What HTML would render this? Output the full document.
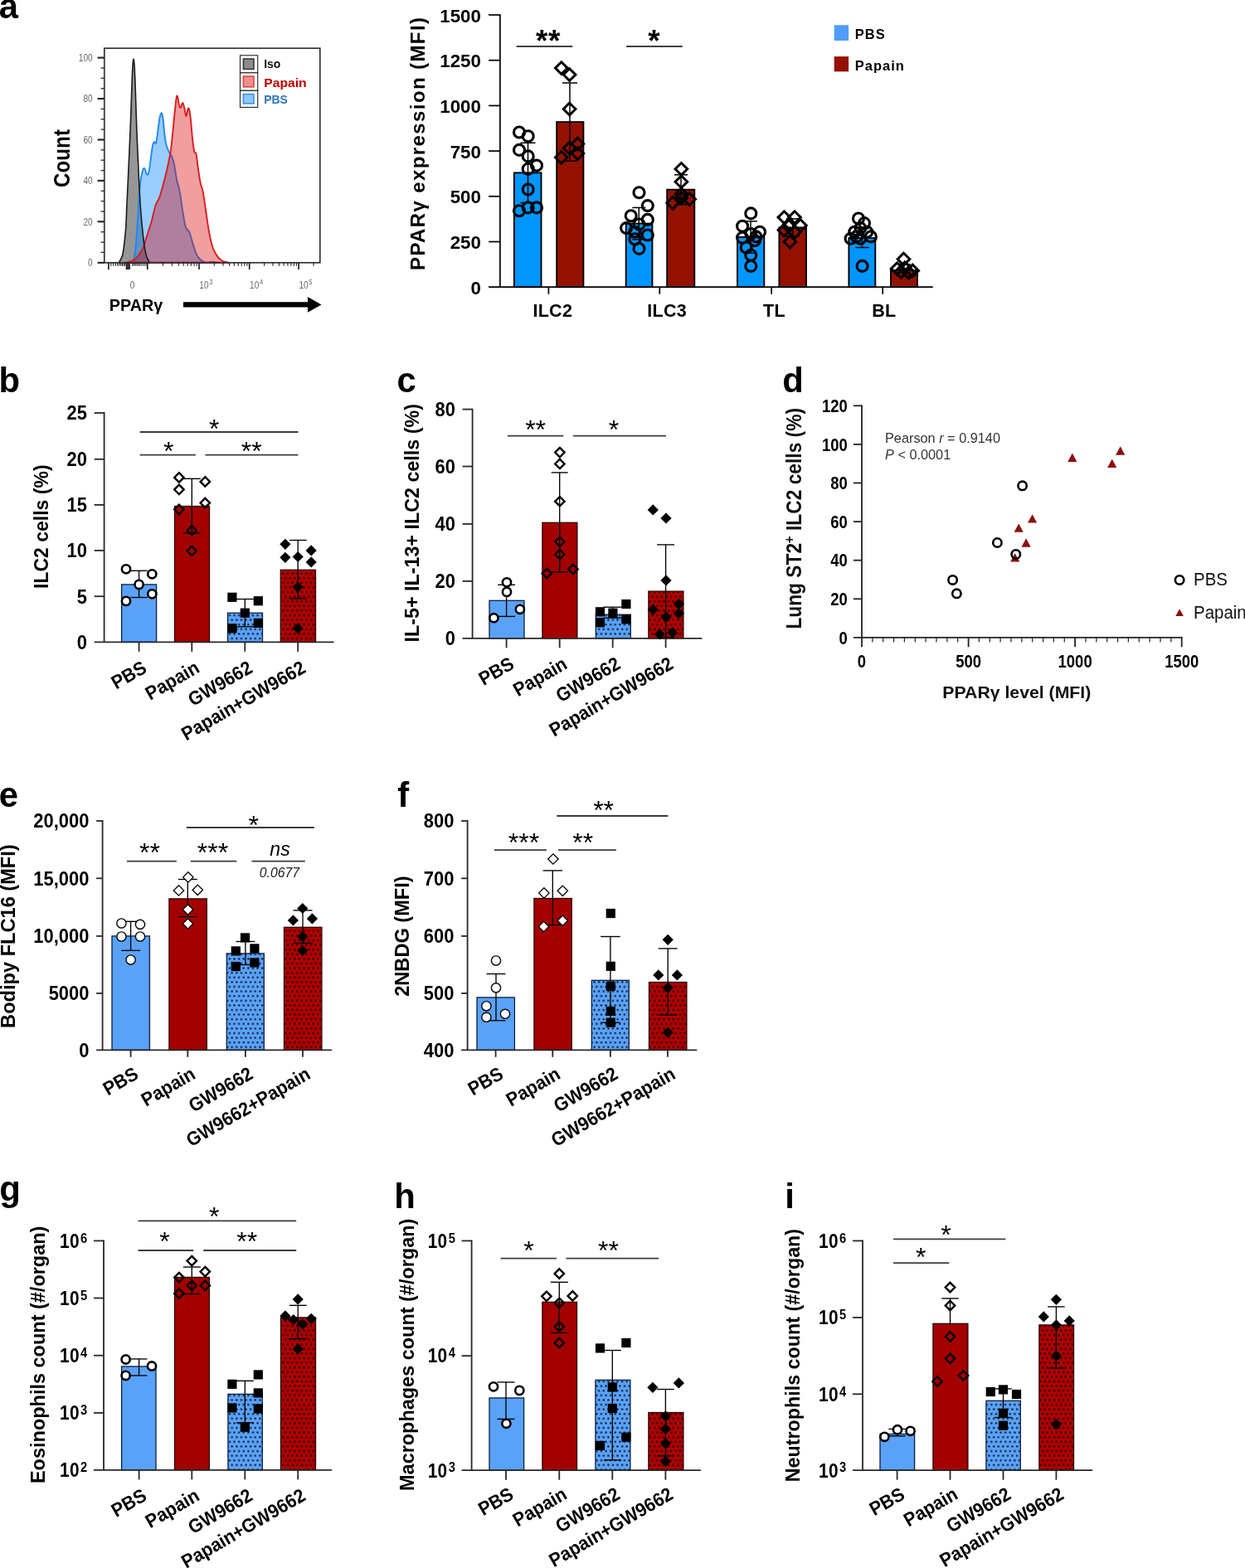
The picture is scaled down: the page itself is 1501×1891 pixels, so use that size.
<!DOCTYPE html>
<html><head><meta charset="utf-8"><title>Figure</title>
<style>html,body{margin:0;padding:0;background:#fff;overflow:hidden}svg{display:block}svg text{font-family:"Liberation Sans",sans-serif;font-kerning:normal}svg text.dv{font-family:"DejaVu Sans",sans-serif}</style></head>
<body>
<svg width="1501" height="1891" viewBox="0 0 1501 1891" role="img" aria-label="Figure panels a to i">
<defs>
<pattern id="dotb" width="5.6" height="11.2" patternUnits="userSpaceOnUse" patternTransform="translate(1.2 1.5)">
<rect width="5.6" height="11.2" fill="#5aa2f8"/><rect x="0.3" y="0.3" width="2.1" height="2.1" rx="0.4" fill="#020a14"/><rect x="3.1" y="5.9" width="2.1" height="2.1" rx="0.4" fill="#020a14"/></pattern>
<pattern id="dotr" width="5.6" height="11.2" patternUnits="userSpaceOnUse" patternTransform="translate(1.2 1.5)">
<rect width="5.6" height="11.2" fill="#ad0000"/><rect x="0.3" y="0.3" width="2.1" height="2.1" rx="0.4" fill="#120000"/><rect x="3.1" y="5.9" width="2.1" height="2.1" rx="0.4" fill="#120000"/></pattern>
</defs>
<rect width="1501" height="1891" fill="#fff"/>

<text x="-1.2" y="22.0" font-size="41.8" font-weight="bold" text-anchor="start" fill="#000">a</text>
<text x="-1.5" y="473.3" font-size="41.8" font-weight="bold" text-anchor="start" fill="#000">b</text>
<text x="478.6" y="473.3" font-size="41.8" font-weight="bold" text-anchor="start" fill="#000">c</text>
<text x="943.3" y="473.0" font-size="41.8" font-weight="bold" text-anchor="start" fill="#000">d</text>
<text x="-1.3" y="972.6" font-size="41.8" font-weight="bold" text-anchor="start" fill="#000">e</text>
<text x="479.3" y="972.6" font-size="41.8" font-weight="bold" text-anchor="start" fill="#000">f</text>
<text x="-0.7" y="1448.0" font-size="41.8" font-weight="bold" text-anchor="start" fill="#000">g</text>
<text x="475.2" y="1457.0" font-size="41.8" font-weight="bold" text-anchor="start" fill="#000">h</text>
<text x="946.2" y="1457.0" font-size="41.8" font-weight="bold" text-anchor="start" fill="#000">i</text>
<rect x="146.6" y="704.9" width="42.0" height="69.5" fill="#5aa2f8" stroke="#0c1f3d" stroke-width="1.3"/>
<rect x="210.5" y="610.5" width="42.0" height="163.9" fill="#a30000" stroke="#2a0303" stroke-width="1.3"/>
<rect x="274.5" y="739.2" width="42.0" height="35.2" fill="url(#dotb)" stroke="#0c1f3d" stroke-width="1.3"/>
<rect x="338.3" y="687.3" width="42.2" height="87.1" fill="url(#dotr)" stroke="#2a0303" stroke-width="1.3"/>
<line x1="125.6" y1="497.1" x2="125.6" y2="774.4" stroke="#282828" stroke-width="1.8" />
<line x1="113.6" y1="774.4" x2="402.5" y2="774.4" stroke="#282828" stroke-width="1.8" />
<line x1="113.6" y1="498.0" x2="125.6" y2="498.0" stroke="#282828" stroke-width="1.8" />
<line x1="113.6" y1="553.8" x2="125.6" y2="553.8" stroke="#282828" stroke-width="1.8" />
<line x1="113.6" y1="608.9" x2="125.6" y2="608.9" stroke="#282828" stroke-width="1.8" />
<line x1="113.6" y1="663.9" x2="125.6" y2="663.9" stroke="#282828" stroke-width="1.8" />
<line x1="113.6" y1="719.2" x2="125.6" y2="719.2" stroke="#282828" stroke-width="1.8" />
<text x="0.0" y="0.0" font-size="23.2" font-weight="bold" text-anchor="end" fill="#000" transform="translate(104.9 506.3) scale(0.945 1)">25</text>
<text x="0.0" y="0.0" font-size="23.2" font-weight="bold" text-anchor="end" fill="#000" transform="translate(104.9 562.1) scale(0.945 1)">20</text>
<text x="0.0" y="0.0" font-size="23.2" font-weight="bold" text-anchor="end" fill="#000" transform="translate(104.9 617.2) scale(0.945 1)">15</text>
<text x="0.0" y="0.0" font-size="23.2" font-weight="bold" text-anchor="end" fill="#000" transform="translate(104.9 672.2) scale(0.945 1)">10</text>
<text x="0.0" y="0.0" font-size="23.2" font-weight="bold" text-anchor="end" fill="#000" transform="translate(104.9 727.5) scale(0.945 1)">5</text>
<text x="0.0" y="0.0" font-size="23.2" font-weight="bold" text-anchor="end" fill="#000" transform="translate(104.9 782.7) scale(0.945 1)">0</text>
<line x1="167.6" y1="774.4" x2="167.6" y2="785.9" stroke="#282828" stroke-width="1.8" />
<line x1="231.3" y1="774.4" x2="231.3" y2="785.9" stroke="#282828" stroke-width="1.8" />
<line x1="295.3" y1="774.4" x2="295.3" y2="785.9" stroke="#282828" stroke-width="1.8" />
<line x1="359.2" y1="774.4" x2="359.2" y2="785.9" stroke="#282828" stroke-width="1.8" />
<text x="0.0" y="0.0" font-size="23.1" font-weight="bold" text-anchor="end" fill="#000" transform="translate(178.4 809.7) rotate(-30) scale(0.932 1)">PBS</text>
<text x="0.0" y="0.0" font-size="23.1" font-weight="bold" text-anchor="end" fill="#000" transform="translate(242.1 809.7) rotate(-30) scale(0.932 1)">Papain</text>
<text x="0.0" y="0.0" font-size="23.1" font-weight="bold" text-anchor="end" fill="#000" transform="translate(306.1 809.7) rotate(-30) scale(0.932 1)">GW9662</text>
<text x="0.0" y="0.0" font-size="23.1" font-weight="bold" text-anchor="end" fill="#000" transform="translate(370.0 809.7) rotate(-30) scale(0.932 1)">Papain+GW9662</text>
<line x1="167.6" y1="688.3" x2="167.6" y2="720.5" stroke="#000" stroke-width="1.35" />
<line x1="157.6" y1="688.3" x2="177.6" y2="688.3" stroke="#000" stroke-width="1.35" />
<line x1="157.6" y1="720.5" x2="177.6" y2="720.5" stroke="#000" stroke-width="1.35" />
<line x1="231.3" y1="577.3" x2="231.3" y2="642.9" stroke="#000" stroke-width="1.35" />
<line x1="220.8" y1="577.3" x2="241.8" y2="577.3" stroke="#000" stroke-width="1.35" />
<line x1="220.8" y1="642.9" x2="241.8" y2="642.9" stroke="#000" stroke-width="1.35" />
<line x1="295.3" y1="722.5" x2="295.3" y2="755.8" stroke="#000" stroke-width="1.35" />
<line x1="284.8" y1="722.5" x2="305.8" y2="722.5" stroke="#000" stroke-width="1.35" />
<line x1="284.8" y1="755.8" x2="305.8" y2="755.8" stroke="#000" stroke-width="1.35" />
<line x1="359.2" y1="651.5" x2="359.2" y2="721.9" stroke="#000" stroke-width="1.35" />
<line x1="348.8" y1="651.5" x2="369.7" y2="651.5" stroke="#000" stroke-width="1.35" />
<line x1="348.8" y1="721.9" x2="369.7" y2="721.9" stroke="#000" stroke-width="1.35" />
<circle cx="152.0" cy="686.3" r="5.1" fill="#fff" stroke="#000" stroke-width="2.6"/>
<circle cx="183.3" cy="692.3" r="5.1" fill="#fff" stroke="#000" stroke-width="2.6"/>
<circle cx="167.6" cy="704.9" r="5.1" fill="#fff" stroke="#000" stroke-width="2.6"/>
<circle cx="183.3" cy="716.3" r="5.1" fill="#fff" stroke="#000" stroke-width="2.6"/>
<circle cx="152.0" cy="724.9" r="5.1" fill="#fff" stroke="#000" stroke-width="2.6"/>
<path d="M215.9 570.2L221.6 575.9L215.9 581.6L210.2 575.9Z" fill="none" stroke="#000" stroke-width="2.4" stroke-linejoin="miter"/>
<path d="M247.3 575.2L253.0 580.9L247.3 586.6L241.6 580.9Z" fill="none" stroke="#000" stroke-width="2.4" stroke-linejoin="miter"/>
<path d="M215.9 584.6L221.6 590.3L215.9 596.0L210.2 590.3Z" fill="none" stroke="#000" stroke-width="2.4" stroke-linejoin="miter"/>
<path d="M247.3 600.8L253.0 606.5L247.3 612.2L241.6 606.5Z" fill="none" stroke="#000" stroke-width="2.4" stroke-linejoin="miter"/>
<path d="M215.9 608.6L221.6 614.3L215.9 620.0L210.2 614.3Z" fill="none" stroke="#000" stroke-width="2.4" stroke-linejoin="miter"/>
<path d="M231.3 634.2L237.0 639.9L231.3 645.6L225.6 639.9Z" fill="none" stroke="#000" stroke-width="2.4" stroke-linejoin="miter"/>
<path d="M231.3 658.6L237.0 664.3L231.3 670.0L225.6 664.3Z" fill="none" stroke="#000" stroke-width="2.4" stroke-linejoin="miter"/>
<rect x="274.3" y="714.7" width="11.2" height="11.2" fill="#000"/>
<rect x="305.7" y="719.1" width="11.2" height="11.2" fill="#000"/>
<rect x="289.7" y="733.6" width="11.2" height="11.2" fill="#000"/>
<rect x="305.7" y="745.8" width="11.2" height="11.2" fill="#000"/>
<rect x="274.3" y="752.2" width="11.2" height="11.2" fill="#000"/>
<path d="M343.9 649.7L350.5 656.3L343.9 662.9L337.3 656.3Z" fill="#000"/>
<path d="M375.2 657.3L381.8 663.9L375.2 670.5L368.6 663.9Z" fill="#000"/>
<path d="M343.9 665.7L350.5 672.3L343.9 678.9L337.3 672.3Z" fill="#000"/>
<path d="M359.2 664.9L365.8 671.5L359.2 678.1L352.6 671.5Z" fill="#000"/>
<path d="M375.2 671.3L381.8 677.9L375.2 684.5L368.6 677.9Z" fill="#000"/>
<path d="M359.2 701.3L365.8 707.9L359.2 714.5L352.6 707.9Z" fill="#000"/>
<path d="M359.2 751.2L365.8 757.8L359.2 764.4L352.6 757.8Z" fill="#000"/>
<line x1="168.6" y1="521.0" x2="359.4" y2="521.0" stroke="#3c3c3c" stroke-width="1.8" />
<line x1="168.6" y1="548.6" x2="235.9" y2="548.6" stroke="#3c3c3c" stroke-width="1.8" />
<line x1="247.5" y1="548.6" x2="359.4" y2="548.6" stroke="#3c3c3c" stroke-width="1.8" />
<text x="258.3" y="528.0" font-size="32" font-weight="normal" text-anchor="middle" fill="#000" letter-spacing="0">*</text>
<text x="203.3" y="554.5" font-size="32" font-weight="normal" text-anchor="middle" fill="#000" letter-spacing="0">*</text>
<text x="303.3" y="554.5" font-size="32" font-weight="normal" text-anchor="middle" fill="#000" letter-spacing="0">**</text>
<text transform="translate(58 635.2) rotate(-90)" font-size="24.3" font-weight="bold" text-anchor="middle" textLength="149.5" lengthAdjust="spacingAndGlyphs">ILC2 cells (%)</text>
<rect x="590.0" y="724.3" width="42.0" height="45.5" fill="#5aa2f8" stroke="#0c1f3d" stroke-width="1.3"/>
<rect x="653.9" y="630.3" width="42.0" height="139.5" fill="#a30000" stroke="#2a0303" stroke-width="1.3"/>
<rect x="718.3" y="741.2" width="42.0" height="28.6" fill="url(#dotb)" stroke="#0c1f3d" stroke-width="1.3"/>
<rect x="781.9" y="713.1" width="42.0" height="56.7" fill="url(#dotr)" stroke="#2a0303" stroke-width="1.3"/>
<line x1="569.6" y1="492.7" x2="569.6" y2="769.8" stroke="#282828" stroke-width="1.8" />
<line x1="557.6" y1="769.8" x2="846.4" y2="769.8" stroke="#282828" stroke-width="1.8" />
<line x1="557.6" y1="493.6" x2="569.6" y2="493.6" stroke="#282828" stroke-width="1.8" />
<line x1="557.6" y1="562.5" x2="569.6" y2="562.5" stroke="#282828" stroke-width="1.8" />
<line x1="557.6" y1="631.9" x2="569.6" y2="631.9" stroke="#282828" stroke-width="1.8" />
<line x1="557.6" y1="700.9" x2="569.6" y2="700.9" stroke="#282828" stroke-width="1.8" />
<text x="0.0" y="0.0" font-size="23.2" font-weight="bold" text-anchor="end" fill="#000" transform="translate(548.9 501.9) scale(0.945 1)">80</text>
<text x="0.0" y="0.0" font-size="23.2" font-weight="bold" text-anchor="end" fill="#000" transform="translate(548.9 570.8) scale(0.945 1)">60</text>
<text x="0.0" y="0.0" font-size="23.2" font-weight="bold" text-anchor="end" fill="#000" transform="translate(548.9 640.2) scale(0.945 1)">40</text>
<text x="0.0" y="0.0" font-size="23.2" font-weight="bold" text-anchor="end" fill="#000" transform="translate(548.9 709.2) scale(0.945 1)">20</text>
<text x="0.0" y="0.0" font-size="23.2" font-weight="bold" text-anchor="end" fill="#000" transform="translate(548.9 778.1) scale(0.945 1)">0</text>
<line x1="610.6" y1="769.8" x2="610.6" y2="781.3" stroke="#282828" stroke-width="1.8" />
<line x1="674.7" y1="769.8" x2="674.7" y2="781.3" stroke="#282828" stroke-width="1.8" />
<line x1="738.7" y1="769.8" x2="738.7" y2="781.3" stroke="#282828" stroke-width="1.8" />
<line x1="802.6" y1="769.8" x2="802.6" y2="781.3" stroke="#282828" stroke-width="1.8" />
<text x="0.0" y="0.0" font-size="23.1" font-weight="bold" text-anchor="end" fill="#000" transform="translate(621.4 805.1) rotate(-30) scale(0.932 1)">PBS</text>
<text x="0.0" y="0.0" font-size="23.1" font-weight="bold" text-anchor="end" fill="#000" transform="translate(685.5 805.1) rotate(-30) scale(0.932 1)">Papain</text>
<text x="0.0" y="0.0" font-size="23.1" font-weight="bold" text-anchor="end" fill="#000" transform="translate(749.5 805.1) rotate(-30) scale(0.932 1)">GW9662</text>
<text x="0.0" y="0.0" font-size="23.1" font-weight="bold" text-anchor="end" fill="#000" transform="translate(813.4 805.1) rotate(-30) scale(0.932 1)">Papain+GW9662</text>
<line x1="610.6" y1="705.3" x2="610.6" y2="743.4" stroke="#000" stroke-width="1.35" />
<line x1="600.2" y1="705.3" x2="621.0" y2="705.3" stroke="#000" stroke-width="1.35" />
<line x1="600.2" y1="743.4" x2="621.0" y2="743.4" stroke="#000" stroke-width="1.35" />
<line x1="674.7" y1="569.9" x2="674.7" y2="689.9" stroke="#000" stroke-width="1.35" />
<line x1="664.7" y1="569.9" x2="684.7" y2="569.9" stroke="#000" stroke-width="1.35" />
<line x1="664.7" y1="689.9" x2="684.7" y2="689.9" stroke="#000" stroke-width="1.35" />
<line x1="738.7" y1="732.2" x2="738.7" y2="745.2" stroke="#000" stroke-width="1.35" />
<line x1="727.7" y1="732.2" x2="749.7" y2="732.2" stroke="#000" stroke-width="1.35" />
<line x1="727.7" y1="745.2" x2="749.7" y2="745.2" stroke="#000" stroke-width="1.35" />
<line x1="802.6" y1="656.9" x2="802.6" y2="768.8" stroke="#000" stroke-width="1.35" />
<line x1="792.1" y1="656.9" x2="813.1" y2="656.9" stroke="#000" stroke-width="1.35" />
<line x1="792.1" y1="768.8" x2="813.1" y2="768.8" stroke="#000" stroke-width="1.35" />
<circle cx="611.0" cy="702.3" r="5.1" fill="#fff" stroke="#000" stroke-width="2.6"/>
<circle cx="611.0" cy="713.9" r="5.1" fill="#fff" stroke="#000" stroke-width="2.6"/>
<circle cx="626.9" cy="734.8" r="5.1" fill="#fff" stroke="#000" stroke-width="2.6"/>
<circle cx="595.4" cy="745.2" r="5.1" fill="#fff" stroke="#000" stroke-width="2.6"/>
<path d="M674.9 539.9L680.6 545.6L674.9 551.3L669.2 545.6Z" fill="none" stroke="#000" stroke-width="2.4" stroke-linejoin="miter"/>
<path d="M674.9 553.7L680.6 559.4L674.9 565.1L669.2 559.4Z" fill="none" stroke="#000" stroke-width="2.4" stroke-linejoin="miter"/>
<path d="M674.9 599.0L680.6 604.7L674.9 610.4L669.2 604.7Z" fill="none" stroke="#000" stroke-width="2.4" stroke-linejoin="miter"/>
<path d="M674.9 647.6L680.6 653.3L674.9 659.0L669.2 653.3Z" fill="none" stroke="#000" stroke-width="2.4" stroke-linejoin="miter"/>
<path d="M674.9 662.8L680.6 668.5L674.9 674.2L669.2 668.5Z" fill="none" stroke="#000" stroke-width="2.4" stroke-linejoin="miter"/>
<path d="M659.3 685.8L665.0 691.5L659.3 697.2L653.6 691.5Z" fill="none" stroke="#000" stroke-width="2.4" stroke-linejoin="miter"/>
<path d="M690.9 680.8L696.6 686.5L690.9 692.2L685.2 686.5Z" fill="none" stroke="#000" stroke-width="2.4" stroke-linejoin="miter"/>
<rect x="717.9" y="732.2" width="11.2" height="11.2" fill="#000"/>
<rect x="733.3" y="733.6" width="11.2" height="11.2" fill="#000"/>
<rect x="749.3" y="722.9" width="11.2" height="11.2" fill="#000"/>
<rect x="749.3" y="741.2" width="11.2" height="11.2" fill="#000"/>
<rect x="717.9" y="745.2" width="11.2" height="11.2" fill="#000"/>
<path d="M787.3 608.3L793.9 614.9L787.3 621.5L780.7 614.9Z" fill="#000"/>
<path d="M803.0 618.3L809.6 624.9L803.0 631.5L796.4 624.9Z" fill="#000"/>
<path d="M803.0 693.3L809.6 699.9L803.0 706.5L796.4 699.9Z" fill="#000"/>
<path d="M787.3 728.6L793.9 735.2L787.3 741.8L780.7 735.2Z" fill="#000"/>
<path d="M818.4 721.9L825.0 728.5L818.4 735.1L811.8 728.5Z" fill="#000"/>
<path d="M818.4 733.2L825.0 739.8L818.4 746.4L811.8 739.8Z" fill="#000"/>
<path d="M803.0 737.6L809.6 744.2L803.0 750.8L796.4 744.2Z" fill="#000"/>
<path d="M795.2 758.2L801.8 764.8L795.2 771.4L788.6 764.8Z" fill="#000"/>
<path d="M810.8 756.2L817.4 762.8L810.8 769.4L804.2 762.8Z" fill="#000"/>
<line x1="612.0" y1="525.6" x2="679.3" y2="525.6" stroke="#3c3c3c" stroke-width="1.8" />
<line x1="690.9" y1="525.6" x2="803.0" y2="525.6" stroke="#3c3c3c" stroke-width="1.8" />
<text x="645.6" y="529.0" font-size="32" font-weight="normal" text-anchor="middle" fill="#000" letter-spacing="0">**</text>
<text x="740.0" y="529.0" font-size="32" font-weight="normal" text-anchor="middle" fill="#000" letter-spacing="0">*</text>
<text transform="translate(505.2 630.8) rotate(-90)" font-size="24.3" font-weight="bold" text-anchor="middle" textLength="287.5" lengthAdjust="spacingAndGlyphs">IL-5+ IL-13+ ILC2 cells (%)</text>
<rect x="135.0" y="1128.9" width="45.4" height="137.5" fill="#5aa2f8" stroke="#0c1f3d" stroke-width="1.3"/>
<rect x="203.9" y="1083.9" width="45.4" height="182.5" fill="#a30000" stroke="#2a0303" stroke-width="1.3"/>
<rect x="273.3" y="1149.9" width="45.0" height="116.5" fill="url(#dotb)" stroke="#0c1f3d" stroke-width="1.3"/>
<rect x="342.5" y="1118.3" width="45.4" height="148.1" fill="url(#dotr)" stroke="#2a0303" stroke-width="1.3"/>
<line x1="123.6" y1="989.1" x2="123.6" y2="1266.4" stroke="#282828" stroke-width="1.8" />
<line x1="116.1" y1="1266.4" x2="400.0" y2="1266.4" stroke="#282828" stroke-width="1.8" />
<line x1="116.1" y1="990.0" x2="123.6" y2="990.0" stroke="#282828" stroke-width="1.8" />
<line x1="116.1" y1="1059.3" x2="123.6" y2="1059.3" stroke="#282828" stroke-width="1.8" />
<line x1="116.1" y1="1128.9" x2="123.6" y2="1128.9" stroke="#282828" stroke-width="1.8" />
<line x1="116.1" y1="1197.9" x2="123.6" y2="1197.9" stroke="#282828" stroke-width="1.8" />
<text x="0.0" y="0.0" font-size="23.2" font-weight="bold" text-anchor="end" fill="#000" transform="translate(107.4 998.3) scale(0.945 1)">20,000</text>
<text x="0.0" y="0.0" font-size="23.2" font-weight="bold" text-anchor="end" fill="#000" transform="translate(107.4 1067.6) scale(0.945 1)">15,000</text>
<text x="0.0" y="0.0" font-size="23.2" font-weight="bold" text-anchor="end" fill="#000" transform="translate(107.4 1137.2) scale(0.945 1)">10,000</text>
<text x="0.0" y="0.0" font-size="23.2" font-weight="bold" text-anchor="end" fill="#000" transform="translate(107.4 1206.2) scale(0.945 1)">5000</text>
<text x="0.0" y="0.0" font-size="23.2" font-weight="bold" text-anchor="end" fill="#000" transform="translate(107.4 1274.7) scale(0.945 1)">0</text>
<line x1="157.6" y1="1266.4" x2="157.6" y2="1274.8" stroke="#282828" stroke-width="1.8" />
<line x1="226.3" y1="1266.4" x2="226.3" y2="1274.8" stroke="#282828" stroke-width="1.8" />
<line x1="295.9" y1="1266.4" x2="295.9" y2="1274.8" stroke="#282828" stroke-width="1.8" />
<line x1="365.0" y1="1266.4" x2="365.0" y2="1274.8" stroke="#282828" stroke-width="1.8" />
<text x="0.0" y="0.0" font-size="23.1" font-weight="bold" text-anchor="end" fill="#000" transform="translate(168.4 1299.6) rotate(-30) scale(0.932 1)">PBS</text>
<text x="0.0" y="0.0" font-size="23.1" font-weight="bold" text-anchor="end" fill="#000" transform="translate(237.1 1299.6) rotate(-30) scale(0.932 1)">Papain</text>
<text x="0.0" y="0.0" font-size="23.1" font-weight="bold" text-anchor="end" fill="#000" transform="translate(306.7 1299.6) rotate(-30) scale(0.932 1)">GW9662</text>
<text x="0.0" y="0.0" font-size="23.1" font-weight="bold" text-anchor="end" fill="#000" transform="translate(375.8 1299.6) rotate(-30) scale(0.932 1)">GW9662+Papain</text>
<line x1="157.6" y1="1111.3" x2="157.6" y2="1146.3" stroke="#000" stroke-width="1.35" />
<line x1="146.1" y1="1111.3" x2="169.1" y2="1111.3" stroke="#000" stroke-width="1.35" />
<line x1="146.1" y1="1146.3" x2="169.1" y2="1146.3" stroke="#000" stroke-width="1.35" />
<line x1="226.3" y1="1060.5" x2="226.3" y2="1105.5" stroke="#000" stroke-width="1.35" />
<line x1="214.8" y1="1060.5" x2="237.8" y2="1060.5" stroke="#000" stroke-width="1.35" />
<line x1="214.8" y1="1105.5" x2="237.8" y2="1105.5" stroke="#000" stroke-width="1.35" />
<line x1="295.9" y1="1135.5" x2="295.9" y2="1163.5" stroke="#000" stroke-width="1.35" />
<line x1="284.4" y1="1135.5" x2="307.4" y2="1135.5" stroke="#000" stroke-width="1.35" />
<line x1="284.4" y1="1163.5" x2="307.4" y2="1163.5" stroke="#000" stroke-width="1.35" />
<line x1="365.0" y1="1097.9" x2="365.0" y2="1137.5" stroke="#000" stroke-width="1.35" />
<line x1="353.5" y1="1097.9" x2="376.5" y2="1097.9" stroke="#000" stroke-width="1.35" />
<line x1="353.5" y1="1137.5" x2="376.5" y2="1137.5" stroke="#000" stroke-width="1.35" />
<circle cx="146.4" cy="1113.5" r="5.6" fill="#fff" stroke="#000" stroke-width="1.4"/>
<circle cx="169.0" cy="1114.9" r="5.6" fill="#fff" stroke="#000" stroke-width="1.4"/>
<circle cx="146.4" cy="1129.5" r="5.6" fill="#fff" stroke="#000" stroke-width="1.4"/>
<circle cx="169.0" cy="1129.5" r="5.6" fill="#fff" stroke="#000" stroke-width="1.4"/>
<circle cx="157.6" cy="1157.5" r="5.6" fill="#fff" stroke="#000" stroke-width="1.4"/>
<path d="M226.9 1051.7L233.1 1057.9L226.9 1064.1L220.7 1057.9Z" fill="#fff" stroke="#000" stroke-width="1.3" stroke-linejoin="miter"/>
<path d="M215.5 1067.7L221.7 1073.9L215.5 1080.1L209.3 1073.9Z" fill="#fff" stroke="#000" stroke-width="1.3" stroke-linejoin="miter"/>
<path d="M238.3 1067.1L244.5 1073.3L238.3 1079.5L232.1 1073.3Z" fill="#fff" stroke="#000" stroke-width="1.3" stroke-linejoin="miter"/>
<path d="M226.5 1090.7L232.7 1096.9L226.5 1103.1L220.3 1096.9Z" fill="#fff" stroke="#000" stroke-width="1.3" stroke-linejoin="miter"/>
<path d="M226.5 1107.7L232.7 1113.9L226.5 1120.1L220.3 1113.9Z" fill="#fff" stroke="#000" stroke-width="1.3" stroke-linejoin="miter"/>
<rect x="289.9" y="1125.3" width="11.2" height="11.2" fill="#000"/>
<rect x="278.7" y="1141.3" width="11.2" height="11.2" fill="#000"/>
<rect x="301.3" y="1138.3" width="11.2" height="11.2" fill="#000"/>
<rect x="301.3" y="1155.3" width="11.2" height="11.2" fill="#000"/>
<rect x="278.7" y="1159.9" width="11.2" height="11.2" fill="#000"/>
<path d="M364.8 1088.9L371.4 1095.5L364.8 1102.1L358.2 1095.5Z" fill="#000"/>
<path d="M353.4 1103.3L360.0 1109.9L353.4 1116.5L346.8 1109.9Z" fill="#000"/>
<path d="M376.4 1101.3L383.0 1107.9L376.4 1114.5L369.8 1107.9Z" fill="#000"/>
<path d="M364.8 1122.9L371.4 1129.5L364.8 1136.1L358.2 1129.5Z" fill="#000"/>
<path d="M364.8 1139.9L371.4 1146.5L364.8 1153.1L358.2 1146.5Z" fill="#000"/>
<line x1="224.9" y1="998.0" x2="378.8" y2="998.0" stroke="#3c3c3c" stroke-width="1.8" />
<line x1="153.0" y1="1038.6" x2="212.9" y2="1038.6" stroke="#3c3c3c" stroke-width="1.8" />
<line x1="229.9" y1="1038.6" x2="285.3" y2="1038.6" stroke="#3c3c3c" stroke-width="1.8" />
<line x1="303.5" y1="1038.6" x2="367.8" y2="1038.6" stroke="#3c3c3c" stroke-width="1.8" />
<text x="305.8" y="1005.8" font-size="32" font-weight="normal" text-anchor="middle" fill="#000" letter-spacing="0">*</text>
<text x="180.5" y="1039.0" font-size="32" font-weight="normal" text-anchor="middle" fill="#000" letter-spacing="0">**</text>
<text x="256.5" y="1039.0" font-size="32" font-weight="normal" text-anchor="middle" fill="#000" letter-spacing="0">***</text>
<text transform="translate(17.8 1129.1) rotate(-90)" font-size="24.3" font-weight="bold" text-anchor="middle" textLength="221.6" lengthAdjust="spacingAndGlyphs">Bodipy FLC16 (MFI)</text>
<text x="337.5" y="1031.5" font-size="23" font-weight="normal" text-anchor="middle" fill="#000" font-style="italic">ns</text>
<text x="337.0" y="1057.5" font-size="15.8" font-weight="normal" text-anchor="middle" fill="#222" font-style="italic">0.0677</text>
<rect x="575.0" y="1202.9" width="45.4" height="63.5" fill="#5aa2f8" stroke="#0c1f3d" stroke-width="1.3"/>
<rect x="643.9" y="1083.5" width="45.4" height="182.9" fill="#a30000" stroke="#2a0303" stroke-width="1.3"/>
<rect x="713.3" y="1182.3" width="45.0" height="84.1" fill="url(#dotb)" stroke="#0c1f3d" stroke-width="1.3"/>
<rect x="782.5" y="1184.5" width="45.4" height="81.9" fill="url(#dotr)" stroke="#2a0303" stroke-width="1.3"/>
<line x1="563.6" y1="989.1" x2="563.6" y2="1266.4" stroke="#282828" stroke-width="1.8" />
<line x1="556.1" y1="1266.4" x2="840.3" y2="1266.4" stroke="#282828" stroke-width="1.8" />
<line x1="556.1" y1="990.0" x2="563.6" y2="990.0" stroke="#282828" stroke-width="1.8" />
<line x1="556.1" y1="1059.3" x2="563.6" y2="1059.3" stroke="#282828" stroke-width="1.8" />
<line x1="556.1" y1="1128.9" x2="563.6" y2="1128.9" stroke="#282828" stroke-width="1.8" />
<line x1="556.1" y1="1197.9" x2="563.6" y2="1197.9" stroke="#282828" stroke-width="1.8" />
<text x="0.0" y="0.0" font-size="23.2" font-weight="bold" text-anchor="end" fill="#000" transform="translate(547.4 998.3) scale(0.945 1)">800</text>
<text x="0.0" y="0.0" font-size="23.2" font-weight="bold" text-anchor="end" fill="#000" transform="translate(547.4 1067.6) scale(0.945 1)">700</text>
<text x="0.0" y="0.0" font-size="23.2" font-weight="bold" text-anchor="end" fill="#000" transform="translate(547.4 1137.2) scale(0.945 1)">600</text>
<text x="0.0" y="0.0" font-size="23.2" font-weight="bold" text-anchor="end" fill="#000" transform="translate(547.4 1206.2) scale(0.945 1)">500</text>
<text x="0.0" y="0.0" font-size="23.2" font-weight="bold" text-anchor="end" fill="#000" transform="translate(547.4 1274.7) scale(0.945 1)">400</text>
<line x1="597.6" y1="1266.4" x2="597.6" y2="1274.8" stroke="#282828" stroke-width="1.8" />
<line x1="666.3" y1="1266.4" x2="666.3" y2="1274.8" stroke="#282828" stroke-width="1.8" />
<line x1="735.9" y1="1266.4" x2="735.9" y2="1274.8" stroke="#282828" stroke-width="1.8" />
<line x1="805.0" y1="1266.4" x2="805.0" y2="1274.8" stroke="#282828" stroke-width="1.8" />
<text x="0.0" y="0.0" font-size="23.1" font-weight="bold" text-anchor="end" fill="#000" transform="translate(608.4 1299.6) rotate(-30) scale(0.932 1)">PBS</text>
<text x="0.0" y="0.0" font-size="23.1" font-weight="bold" text-anchor="end" fill="#000" transform="translate(677.1 1299.6) rotate(-30) scale(0.932 1)">Papain</text>
<text x="0.0" y="0.0" font-size="23.1" font-weight="bold" text-anchor="end" fill="#000" transform="translate(746.7 1299.6) rotate(-30) scale(0.932 1)">GW9662</text>
<text x="0.0" y="0.0" font-size="23.1" font-weight="bold" text-anchor="end" fill="#000" transform="translate(815.8 1299.6) rotate(-30) scale(0.932 1)">GW9662+Papain</text>
<line x1="598.0" y1="1174.5" x2="598.0" y2="1230.8" stroke="#000" stroke-width="1.35" />
<line x1="586.5" y1="1174.5" x2="609.5" y2="1174.5" stroke="#000" stroke-width="1.35" />
<line x1="586.5" y1="1230.8" x2="609.5" y2="1230.8" stroke="#000" stroke-width="1.35" />
<line x1="666.3" y1="1049.9" x2="666.3" y2="1115.5" stroke="#000" stroke-width="1.35" />
<line x1="654.6" y1="1049.9" x2="678.0" y2="1049.9" stroke="#000" stroke-width="1.35" />
<line x1="654.6" y1="1115.5" x2="678.0" y2="1115.5" stroke="#000" stroke-width="1.35" />
<line x1="735.9" y1="1129.5" x2="735.9" y2="1233.2" stroke="#000" stroke-width="1.35" />
<line x1="724.1" y1="1129.5" x2="747.7" y2="1129.5" stroke="#000" stroke-width="1.35" />
<line x1="724.1" y1="1233.2" x2="747.7" y2="1233.2" stroke="#000" stroke-width="1.35" />
<line x1="805.2" y1="1143.9" x2="805.2" y2="1224.2" stroke="#000" stroke-width="1.35" />
<line x1="793.7" y1="1143.9" x2="816.7" y2="1143.9" stroke="#000" stroke-width="1.35" />
<line x1="793.7" y1="1224.2" x2="816.7" y2="1224.2" stroke="#000" stroke-width="1.35" />
<circle cx="598.0" cy="1158.5" r="5.6" fill="#fff" stroke="#000" stroke-width="1.4"/>
<circle cx="598.0" cy="1191.3" r="5.6" fill="#fff" stroke="#000" stroke-width="1.4"/>
<circle cx="586.4" cy="1213.2" r="5.6" fill="#fff" stroke="#000" stroke-width="1.4"/>
<circle cx="609.0" cy="1222.8" r="5.6" fill="#fff" stroke="#000" stroke-width="1.4"/>
<circle cx="586.4" cy="1226.8" r="5.6" fill="#fff" stroke="#000" stroke-width="1.4"/>
<path d="M666.9 1029.8L673.1 1036.0L666.9 1042.2L660.7 1036.0Z" fill="#fff" stroke="#000" stroke-width="1.3" stroke-linejoin="miter"/>
<path d="M655.9 1070.7L662.1 1076.9L655.9 1083.1L649.7 1076.9Z" fill="#fff" stroke="#000" stroke-width="1.3" stroke-linejoin="miter"/>
<path d="M678.3 1068.1L684.5 1074.3L678.3 1080.5L672.1 1074.3Z" fill="#fff" stroke="#000" stroke-width="1.3" stroke-linejoin="miter"/>
<path d="M678.3 1104.1L684.5 1110.3L678.3 1116.5L672.1 1110.3Z" fill="#fff" stroke="#000" stroke-width="1.3" stroke-linejoin="miter"/>
<path d="M655.5 1111.3L661.7 1117.5L655.5 1123.7L649.3 1117.5Z" fill="#fff" stroke="#000" stroke-width="1.3" stroke-linejoin="miter"/>
<rect x="730.7" y="1095.9" width="11.2" height="11.2" fill="#000"/>
<rect x="730.7" y="1159.7" width="11.2" height="11.2" fill="#000"/>
<rect x="730.7" y="1183.7" width="11.2" height="11.2" fill="#000"/>
<rect x="730.7" y="1213.8" width="11.2" height="11.2" fill="#000"/>
<rect x="730.7" y="1227.6" width="11.2" height="11.2" fill="#000"/>
<path d="M805.2 1126.7L811.8 1133.3L805.2 1139.9L798.6 1133.3Z" fill="#000"/>
<path d="M793.8 1169.3L800.4 1175.9L793.8 1182.5L787.2 1175.9Z" fill="#000"/>
<path d="M816.4 1169.3L823.0 1175.9L816.4 1182.5L809.8 1175.9Z" fill="#000"/>
<path d="M805.2 1184.7L811.8 1191.3L805.2 1197.9L798.6 1191.3Z" fill="#000"/>
<path d="M805.2 1238.6L811.8 1245.2L805.2 1251.8L798.6 1245.2Z" fill="#000"/>
<line x1="671.3" y1="984.0" x2="805.4" y2="984.0" stroke="#3c3c3c" stroke-width="1.8" />
<line x1="596.0" y1="1025.2" x2="658.9" y2="1025.2" stroke="#3c3c3c" stroke-width="1.8" />
<line x1="672.9" y1="1025.2" x2="742.9" y2="1025.2" stroke="#3c3c3c" stroke-width="1.8" />
<text x="727.6" y="988.1" font-size="32" font-weight="normal" text-anchor="middle" fill="#000" letter-spacing="0">**</text>
<text x="631.5" y="1027.4" font-size="32" font-weight="normal" text-anchor="middle" fill="#000" letter-spacing="0">***</text>
<text x="702.8" y="1027.4" font-size="32" font-weight="normal" text-anchor="middle" fill="#000" letter-spacing="0">**</text>
<text transform="translate(493.3 1129.1) rotate(-90)" font-size="24.3" font-weight="bold" text-anchor="middle" textLength="145.4" lengthAdjust="spacingAndGlyphs">2NBDG (MFI)</text>
<rect x="146.6" y="1647.9" width="41.4" height="124.9" fill="#5aa2f8" stroke="#0c1f3d" stroke-width="1.3"/>
<rect x="210.5" y="1540.4" width="41.8" height="232.4" fill="#a30000" stroke="#2a0303" stroke-width="1.3"/>
<rect x="274.9" y="1681.3" width="41.4" height="91.5" fill="url(#dotb)" stroke="#0c1f3d" stroke-width="1.3"/>
<rect x="338.5" y="1588.9" width="42.0" height="183.9" fill="url(#dotr)" stroke="#2a0303" stroke-width="1.3"/>
<line x1="125.0" y1="1495.5" x2="125.0" y2="1772.8" stroke="#282828" stroke-width="1.8" />
<line x1="113.0" y1="1772.8" x2="400.0" y2="1772.8" stroke="#282828" stroke-width="1.8" />
<line x1="113.0" y1="1496.4" x2="125.0" y2="1496.4" stroke="#282828" stroke-width="1.8" />
<line x1="113.0" y1="1565.5" x2="125.0" y2="1565.5" stroke="#282828" stroke-width="1.8" />
<line x1="113.0" y1="1634.7" x2="125.0" y2="1634.7" stroke="#282828" stroke-width="1.8" />
<line x1="113.0" y1="1703.9" x2="125.0" y2="1703.9" stroke="#282828" stroke-width="1.8" />
<text transform="translate(105.6 1504.7) scale(0.9 1)" font-size="23.2" font-weight="bold" text-anchor="end" letter-spacing="0.4">10<tspan font-size="16.3" dx="1.2" dy="-6.1">6</tspan></text>
<text transform="translate(105.6 1573.8) scale(0.9 1)" font-size="23.2" font-weight="bold" text-anchor="end" letter-spacing="0.4">10<tspan font-size="16.3" dx="1.2" dy="-6.1">5</tspan></text>
<text transform="translate(105.6 1643.0) scale(0.9 1)" font-size="23.2" font-weight="bold" text-anchor="end" letter-spacing="0.4">10<tspan font-size="16.3" dx="1.2" dy="-6.1">4</tspan></text>
<text transform="translate(105.6 1712.2) scale(0.9 1)" font-size="23.2" font-weight="bold" text-anchor="end" letter-spacing="0.4">10<tspan font-size="16.3" dx="1.2" dy="-6.1">3</tspan></text>
<text transform="translate(105.6 1781.1) scale(0.9 1)" font-size="23.2" font-weight="bold" text-anchor="end" letter-spacing="0.4">10<tspan font-size="16.3" dx="1.2" dy="-6.1">2</tspan></text>
<line x1="167.6" y1="1772.8" x2="167.6" y2="1784.3" stroke="#282828" stroke-width="1.8" />
<line x1="231.3" y1="1772.8" x2="231.3" y2="1784.3" stroke="#282828" stroke-width="1.8" />
<line x1="295.3" y1="1772.8" x2="295.3" y2="1784.3" stroke="#282828" stroke-width="1.8" />
<line x1="359.2" y1="1772.8" x2="359.2" y2="1784.3" stroke="#282828" stroke-width="1.8" />
<text x="0.0" y="0.0" font-size="23.1" font-weight="bold" text-anchor="end" fill="#000" transform="translate(178.4 1808.1) rotate(-30) scale(0.932 1)">PBS</text>
<text x="0.0" y="0.0" font-size="23.1" font-weight="bold" text-anchor="end" fill="#000" transform="translate(242.1 1808.1) rotate(-30) scale(0.932 1)">Papain</text>
<text x="0.0" y="0.0" font-size="23.1" font-weight="bold" text-anchor="end" fill="#000" transform="translate(306.1 1808.1) rotate(-30) scale(0.932 1)">GW9662</text>
<text x="0.0" y="0.0" font-size="23.1" font-weight="bold" text-anchor="end" fill="#000" transform="translate(370.0 1808.1) rotate(-30) scale(0.932 1)">Papain+GW9662</text>
<line x1="167.6" y1="1638.9" x2="167.6" y2="1658.9" stroke="#000" stroke-width="1.35" />
<line x1="157.8" y1="1638.9" x2="177.4" y2="1638.9" stroke="#000" stroke-width="1.35" />
<line x1="157.8" y1="1658.9" x2="177.4" y2="1658.9" stroke="#000" stroke-width="1.35" />
<line x1="231.3" y1="1528.0" x2="231.3" y2="1560.5" stroke="#000" stroke-width="1.35" />
<line x1="220.8" y1="1528.0" x2="241.8" y2="1528.0" stroke="#000" stroke-width="1.35" />
<line x1="220.8" y1="1560.5" x2="241.8" y2="1560.5" stroke="#000" stroke-width="1.35" />
<line x1="295.3" y1="1665.3" x2="295.3" y2="1715.8" stroke="#000" stroke-width="1.35" />
<line x1="284.8" y1="1665.3" x2="305.8" y2="1665.3" stroke="#000" stroke-width="1.35" />
<line x1="284.8" y1="1715.8" x2="305.8" y2="1715.8" stroke="#000" stroke-width="1.35" />
<line x1="359.2" y1="1574.3" x2="359.2" y2="1614.5" stroke="#000" stroke-width="1.35" />
<line x1="348.8" y1="1574.3" x2="369.7" y2="1574.3" stroke="#000" stroke-width="1.35" />
<line x1="348.8" y1="1614.5" x2="369.7" y2="1614.5" stroke="#000" stroke-width="1.35" />
<circle cx="151.6" cy="1639.5" r="5.1" fill="#fff" stroke="#000" stroke-width="2.6"/>
<circle cx="183.0" cy="1647.5" r="5.1" fill="#fff" stroke="#000" stroke-width="2.6"/>
<circle cx="151.6" cy="1658.9" r="5.1" fill="#fff" stroke="#000" stroke-width="2.6"/>
<path d="M231.3 1514.9L237.0 1520.6L231.3 1526.3L225.6 1520.6Z" fill="none" stroke="#000" stroke-width="2.4" stroke-linejoin="miter"/>
<path d="M247.3 1527.9L253.0 1533.6L247.3 1539.3L241.6 1533.6Z" fill="none" stroke="#000" stroke-width="2.4" stroke-linejoin="miter"/>
<path d="M215.9 1534.9L221.6 1540.6L215.9 1546.3L210.2 1540.6Z" fill="none" stroke="#000" stroke-width="2.4" stroke-linejoin="miter"/>
<path d="M231.3 1544.6L237.0 1550.3L231.3 1556.0L225.6 1550.3Z" fill="none" stroke="#000" stroke-width="2.4" stroke-linejoin="miter"/>
<path d="M247.3 1544.6L253.0 1550.3L247.3 1556.0L241.6 1550.3Z" fill="none" stroke="#000" stroke-width="2.4" stroke-linejoin="miter"/>
<path d="M215.9 1554.2L221.6 1559.9L215.9 1565.6L210.2 1559.9Z" fill="none" stroke="#000" stroke-width="2.4" stroke-linejoin="miter"/>
<rect x="305.7" y="1652.3" width="11.2" height="11.2" fill="#000"/>
<rect x="274.3" y="1663.7" width="11.2" height="11.2" fill="#000"/>
<rect x="305.7" y="1674.3" width="11.2" height="11.2" fill="#000"/>
<rect x="274.3" y="1692.3" width="11.2" height="11.2" fill="#000"/>
<rect x="305.7" y="1693.3" width="11.2" height="11.2" fill="#000"/>
<rect x="289.7" y="1715.6" width="11.2" height="11.2" fill="#000"/>
<path d="M359.2 1560.3L365.8 1566.9L359.2 1573.5L352.6 1566.9Z" fill="#000"/>
<path d="M343.9 1580.3L350.5 1586.9L343.9 1593.5L337.3 1586.9Z" fill="#000"/>
<path d="M353.8 1584.9L360.4 1591.5L353.8 1598.1L347.2 1591.5Z" fill="#000"/>
<path d="M375.2 1583.7L381.8 1590.3L375.2 1596.9L368.6 1590.3Z" fill="#000"/>
<path d="M364.8 1590.3L371.4 1596.9L364.8 1603.5L358.2 1596.9Z" fill="#000"/>
<path d="M359.2 1620.3L365.8 1626.9L359.2 1633.5L352.6 1626.9Z" fill="#000"/>
<line x1="166.6" y1="1472.4" x2="357.2" y2="1472.4" stroke="#3c3c3c" stroke-width="1.8" />
<line x1="166.6" y1="1508.0" x2="233.3" y2="1508.0" stroke="#3c3c3c" stroke-width="1.8" />
<line x1="245.3" y1="1508.0" x2="357.2" y2="1508.0" stroke="#3c3c3c" stroke-width="1.8" />
<text x="258.2" y="1477.6" font-size="32" font-weight="normal" text-anchor="middle" fill="#000" letter-spacing="0">*</text>
<text x="198.4" y="1507.8" font-size="32" font-weight="normal" text-anchor="middle" fill="#000" letter-spacing="0">*</text>
<text x="297.8" y="1507.8" font-size="32" font-weight="normal" text-anchor="middle" fill="#000" letter-spacing="0">**</text>
<text transform="translate(54.2 1633.8) rotate(-90)" font-size="24.3" font-weight="bold" text-anchor="middle" textLength="310.5" lengthAdjust="spacingAndGlyphs">Eosinophils count (#/organ)</text>
<rect x="590.0" y="1685.9" width="41.6" height="87.3" fill="#5aa2f8" stroke="#0c1f3d" stroke-width="1.3"/>
<rect x="653.9" y="1570.3" width="41.6" height="202.9" fill="#a30000" stroke="#2a0303" stroke-width="1.3"/>
<rect x="717.9" y="1664.3" width="42.0" height="108.9" fill="url(#dotb)" stroke="#0c1f3d" stroke-width="1.3"/>
<rect x="781.9" y="1703.5" width="42.0" height="69.7" fill="url(#dotr)" stroke="#2a0303" stroke-width="1.3"/>
<line x1="568.6" y1="1495.5" x2="568.6" y2="1773.2" stroke="#282828" stroke-width="1.8" />
<line x1="556.6" y1="1773.2" x2="844.9" y2="1773.2" stroke="#282828" stroke-width="1.8" />
<line x1="556.6" y1="1496.4" x2="568.6" y2="1496.4" stroke="#282828" stroke-width="1.8" />
<line x1="556.6" y1="1635.1" x2="568.6" y2="1635.1" stroke="#282828" stroke-width="1.8" />
<text transform="translate(549.2 1504.7) scale(0.9 1)" font-size="23.2" font-weight="bold" text-anchor="end" letter-spacing="0.4">10<tspan font-size="16.3" dx="1.2" dy="-6.1">5</tspan></text>
<text transform="translate(549.2 1643.4) scale(0.9 1)" font-size="23.2" font-weight="bold" text-anchor="end" letter-spacing="0.4">10<tspan font-size="16.3" dx="1.2" dy="-6.1">4</tspan></text>
<text transform="translate(549.2 1781.5) scale(0.9 1)" font-size="23.2" font-weight="bold" text-anchor="end" letter-spacing="0.4">10<tspan font-size="16.3" dx="1.2" dy="-6.1">3</tspan></text>
<line x1="610.0" y1="1773.2" x2="610.0" y2="1784.7" stroke="#282828" stroke-width="1.8" />
<line x1="674.3" y1="1773.2" x2="674.3" y2="1784.7" stroke="#282828" stroke-width="1.8" />
<line x1="738.3" y1="1773.2" x2="738.3" y2="1784.7" stroke="#282828" stroke-width="1.8" />
<line x1="802.4" y1="1773.2" x2="802.4" y2="1784.7" stroke="#282828" stroke-width="1.8" />
<text x="0.0" y="0.0" font-size="23.1" font-weight="bold" text-anchor="end" fill="#000" transform="translate(620.8 1806.5) rotate(-30) scale(0.932 1)">PBS</text>
<text x="0.0" y="0.0" font-size="23.1" font-weight="bold" text-anchor="end" fill="#000" transform="translate(685.1 1806.5) rotate(-30) scale(0.932 1)">Papain</text>
<text x="0.0" y="0.0" font-size="23.1" font-weight="bold" text-anchor="end" fill="#000" transform="translate(749.1 1806.5) rotate(-30) scale(0.932 1)">GW9662</text>
<text x="0.0" y="0.0" font-size="23.1" font-weight="bold" text-anchor="end" fill="#000" transform="translate(813.2 1806.5) rotate(-30) scale(0.932 1)">Papain+GW9662</text>
<line x1="610.0" y1="1666.9" x2="610.0" y2="1711.4" stroke="#000" stroke-width="1.35" />
<line x1="599.5" y1="1666.9" x2="620.5" y2="1666.9" stroke="#000" stroke-width="1.35" />
<line x1="599.5" y1="1711.4" x2="620.5" y2="1711.4" stroke="#000" stroke-width="1.35" />
<line x1="674.3" y1="1546.3" x2="674.3" y2="1607.3" stroke="#000" stroke-width="1.35" />
<line x1="663.8" y1="1546.3" x2="684.8" y2="1546.3" stroke="#000" stroke-width="1.35" />
<line x1="663.8" y1="1607.3" x2="684.8" y2="1607.3" stroke="#000" stroke-width="1.35" />
<line x1="738.3" y1="1628.5" x2="738.3" y2="1760.8" stroke="#000" stroke-width="1.35" />
<line x1="727.8" y1="1628.5" x2="748.8" y2="1628.5" stroke="#000" stroke-width="1.35" />
<line x1="727.8" y1="1760.8" x2="748.8" y2="1760.8" stroke="#000" stroke-width="1.35" />
<line x1="802.4" y1="1675.5" x2="802.4" y2="1755.8" stroke="#000" stroke-width="1.35" />
<line x1="792.1" y1="1675.5" x2="812.7" y2="1675.5" stroke="#000" stroke-width="1.35" />
<line x1="792.1" y1="1755.8" x2="812.7" y2="1755.8" stroke="#000" stroke-width="1.35" />
<circle cx="595.0" cy="1672.3" r="5.1" fill="#fff" stroke="#000" stroke-width="2.6"/>
<circle cx="626.3" cy="1676.9" r="5.1" fill="#fff" stroke="#000" stroke-width="2.6"/>
<circle cx="610.4" cy="1716.8" r="5.1" fill="#fff" stroke="#000" stroke-width="2.6"/>
<path d="M674.3 1530.3L680.0 1536.0L674.3 1541.7L668.6 1536.0Z" fill="none" stroke="#000" stroke-width="2.4" stroke-linejoin="miter"/>
<path d="M658.9 1557.6L664.6 1563.3L658.9 1569.0L653.2 1563.3Z" fill="none" stroke="#000" stroke-width="2.4" stroke-linejoin="miter"/>
<path d="M690.3 1557.2L696.0 1562.9L690.3 1568.6L684.6 1562.9Z" fill="none" stroke="#000" stroke-width="2.4" stroke-linejoin="miter"/>
<path d="M674.3 1565.6L680.0 1571.3L674.3 1577.0L668.6 1571.3Z" fill="none" stroke="#000" stroke-width="2.4" stroke-linejoin="miter"/>
<path d="M674.3 1594.2L680.0 1599.9L674.3 1605.6L668.6 1599.9Z" fill="none" stroke="#000" stroke-width="2.4" stroke-linejoin="miter"/>
<path d="M674.3 1613.8L680.0 1619.5L674.3 1625.2L668.6 1619.5Z" fill="none" stroke="#000" stroke-width="2.4" stroke-linejoin="miter"/>
<rect x="749.3" y="1613.9" width="11.2" height="11.2" fill="#000"/>
<rect x="717.9" y="1620.3" width="11.2" height="11.2" fill="#000"/>
<rect x="732.7" y="1667.3" width="11.2" height="11.2" fill="#000"/>
<rect x="732.7" y="1692.9" width="11.2" height="11.2" fill="#000"/>
<rect x="749.3" y="1727.6" width="11.2" height="11.2" fill="#000"/>
<rect x="717.9" y="1737.8" width="11.2" height="11.2" fill="#000"/>
<path d="M818.4 1661.3L825.0 1667.9L818.4 1674.5L811.8 1667.9Z" fill="#000"/>
<path d="M786.9 1666.7L793.5 1673.3L786.9 1679.9L780.3 1673.3Z" fill="#000"/>
<path d="M802.4 1701.3L809.0 1707.9L802.4 1714.5L795.8 1707.9Z" fill="#000"/>
<path d="M802.4 1716.8L809.0 1723.4L802.4 1730.0L795.8 1723.4Z" fill="#000"/>
<path d="M802.4 1734.2L809.0 1740.8L802.4 1747.4L795.8 1740.8Z" fill="#000"/>
<path d="M802.4 1755.8L809.0 1762.4L802.4 1769.0L795.8 1762.4Z" fill="#000"/>
<line x1="603.6" y1="1517.6" x2="670.9" y2="1517.6" stroke="#3c3c3c" stroke-width="1.8" />
<line x1="682.5" y1="1517.6" x2="794.2" y2="1517.6" stroke="#3c3c3c" stroke-width="1.8" />
<text x="637.4" y="1518.5" font-size="32" font-weight="normal" text-anchor="middle" fill="#000" letter-spacing="0">*</text>
<text x="733.4" y="1518.5" font-size="32" font-weight="normal" text-anchor="middle" fill="#000" letter-spacing="0">**</text>
<text transform="translate(498.6 1633.8) rotate(-90)" font-size="24.3" font-weight="bold" text-anchor="middle" textLength="328.3" lengthAdjust="spacingAndGlyphs">Macrophages count (#/organ)</text>
<rect x="1061.0" y="1729.4" width="41.6" height="43.8" fill="#5aa2f8" stroke="#0c1f3d" stroke-width="1.3"/>
<rect x="1124.9" y="1596.3" width="42.0" height="176.9" fill="#a30000" stroke="#2a0303" stroke-width="1.3"/>
<rect x="1188.9" y="1689.3" width="41.4" height="83.9" fill="url(#dotb)" stroke="#0c1f3d" stroke-width="1.3"/>
<rect x="1252.9" y="1597.9" width="41.6" height="175.3" fill="url(#dotr)" stroke="#2a0303" stroke-width="1.3"/>
<line x1="1040.0" y1="1495.5" x2="1040.0" y2="1773.2" stroke="#282828" stroke-width="1.8" />
<line x1="1028.0" y1="1773.2" x2="1317.2" y2="1773.2" stroke="#282828" stroke-width="1.8" />
<line x1="1028.0" y1="1496.4" x2="1040.0" y2="1496.4" stroke="#282828" stroke-width="1.8" />
<line x1="1028.0" y1="1588.9" x2="1040.0" y2="1588.9" stroke="#282828" stroke-width="1.8" />
<line x1="1028.0" y1="1681.3" x2="1040.0" y2="1681.3" stroke="#282828" stroke-width="1.8" />
<text transform="translate(1020.6 1504.7) scale(0.9 1)" font-size="23.2" font-weight="bold" text-anchor="end" letter-spacing="0.4">10<tspan font-size="16.3" dx="1.2" dy="-6.1">6</tspan></text>
<text transform="translate(1020.6 1597.2) scale(0.9 1)" font-size="23.2" font-weight="bold" text-anchor="end" letter-spacing="0.4">10<tspan font-size="16.3" dx="1.2" dy="-6.1">5</tspan></text>
<text transform="translate(1020.6 1689.6) scale(0.9 1)" font-size="23.2" font-weight="bold" text-anchor="end" letter-spacing="0.4">10<tspan font-size="16.3" dx="1.2" dy="-6.1">4</tspan></text>
<text transform="translate(1020.6 1781.5) scale(0.9 1)" font-size="23.2" font-weight="bold" text-anchor="end" letter-spacing="0.4">10<tspan font-size="16.3" dx="1.2" dy="-6.1">3</tspan></text>
<line x1="1081.6" y1="1773.2" x2="1081.6" y2="1784.7" stroke="#282828" stroke-width="1.8" />
<line x1="1145.5" y1="1773.2" x2="1145.5" y2="1784.7" stroke="#282828" stroke-width="1.8" />
<line x1="1209.5" y1="1773.2" x2="1209.5" y2="1784.7" stroke="#282828" stroke-width="1.8" />
<line x1="1273.4" y1="1773.2" x2="1273.4" y2="1784.7" stroke="#282828" stroke-width="1.8" />
<text x="0.0" y="0.0" font-size="23.1" font-weight="bold" text-anchor="end" fill="#000" transform="translate(1092.4 1806.5) rotate(-30) scale(0.932 1)">PBS</text>
<text x="0.0" y="0.0" font-size="23.1" font-weight="bold" text-anchor="end" fill="#000" transform="translate(1156.3 1806.5) rotate(-30) scale(0.932 1)">Papain</text>
<text x="0.0" y="0.0" font-size="23.1" font-weight="bold" text-anchor="end" fill="#000" transform="translate(1220.3 1806.5) rotate(-30) scale(0.932 1)">GW9662</text>
<text x="0.0" y="0.0" font-size="23.1" font-weight="bold" text-anchor="end" fill="#000" transform="translate(1284.2 1806.5) rotate(-30) scale(0.932 1)">Papain+GW9662</text>
<line x1="1081.6" y1="1723.4" x2="1081.6" y2="1731.8" stroke="#000" stroke-width="1.35" />
<line x1="1071.4" y1="1723.4" x2="1091.8" y2="1723.4" stroke="#000" stroke-width="1.35" />
<line x1="1071.4" y1="1731.8" x2="1091.8" y2="1731.8" stroke="#000" stroke-width="1.35" />
<line x1="1145.5" y1="1565.9" x2="1145.5" y2="1597.9" stroke="#000" stroke-width="1.35" />
<line x1="1135.3" y1="1565.9" x2="1155.7" y2="1565.9" stroke="#000" stroke-width="1.35" />
<line x1="1209.5" y1="1674.9" x2="1209.5" y2="1709.5" stroke="#000" stroke-width="1.35" />
<line x1="1199.2" y1="1674.9" x2="1219.8" y2="1674.9" stroke="#000" stroke-width="1.35" />
<line x1="1199.2" y1="1709.5" x2="1219.8" y2="1709.5" stroke="#000" stroke-width="1.35" />
<line x1="1273.4" y1="1575.9" x2="1273.4" y2="1649.9" stroke="#000" stroke-width="1.35" />
<line x1="1263.2" y1="1575.9" x2="1283.7" y2="1575.9" stroke="#000" stroke-width="1.35" />
<line x1="1263.2" y1="1649.9" x2="1283.7" y2="1649.9" stroke="#000" stroke-width="1.35" />
<circle cx="1066.4" cy="1732.8" r="5.1" fill="#fff" stroke="#000" stroke-width="2.6"/>
<circle cx="1082.0" cy="1724.2" r="5.1" fill="#fff" stroke="#000" stroke-width="2.6"/>
<circle cx="1097.6" cy="1725.8" r="5.1" fill="#fff" stroke="#000" stroke-width="2.6"/>
<path d="M1145.5 1546.8L1151.2 1552.5L1145.5 1558.2L1139.8 1552.5Z" fill="none" stroke="#000" stroke-width="2.4" stroke-linejoin="miter"/>
<path d="M1145.5 1568.8L1151.2 1574.5L1145.5 1580.2L1139.8 1574.5Z" fill="none" stroke="#000" stroke-width="2.4" stroke-linejoin="miter"/>
<path d="M1145.5 1606.2L1151.2 1611.9L1145.5 1617.6L1139.8 1611.9Z" fill="none" stroke="#000" stroke-width="2.4" stroke-linejoin="miter"/>
<path d="M1145.5 1632.6L1151.2 1638.3L1145.5 1644.0L1139.8 1638.3Z" fill="none" stroke="#000" stroke-width="2.4" stroke-linejoin="miter"/>
<path d="M1161.5 1653.2L1167.2 1658.9L1161.5 1664.6L1155.8 1658.9Z" fill="none" stroke="#000" stroke-width="2.4" stroke-linejoin="miter"/>
<path d="M1130.1 1660.2L1135.8 1665.9L1130.1 1671.6L1124.4 1665.9Z" fill="none" stroke="#000" stroke-width="2.4" stroke-linejoin="miter"/>
<rect x="1188.7" y="1672.9" width="11.2" height="11.2" fill="#000"/>
<rect x="1203.9" y="1670.3" width="11.2" height="11.2" fill="#000"/>
<rect x="1219.9" y="1675.9" width="11.2" height="11.2" fill="#000"/>
<rect x="1203.9" y="1698.7" width="11.2" height="11.2" fill="#000"/>
<rect x="1203.9" y="1713.6" width="11.2" height="11.2" fill="#000"/>
<path d="M1273.4 1560.7L1280.0 1567.3L1273.4 1573.9L1266.8 1567.3Z" fill="#000"/>
<path d="M1258.3 1581.3L1264.9 1587.9L1258.3 1594.5L1251.7 1587.9Z" fill="#000"/>
<path d="M1289.2 1586.3L1295.8 1592.9L1289.2 1599.5L1282.6 1592.9Z" fill="#000"/>
<path d="M1273.4 1591.3L1280.0 1597.9L1273.4 1604.5L1266.8 1597.9Z" fill="#000"/>
<path d="M1273.4 1628.7L1280.0 1635.3L1273.4 1641.9L1266.8 1635.3Z" fill="#000"/>
<path d="M1273.4 1711.2L1280.0 1717.8L1273.4 1724.4L1266.8 1717.8Z" fill="#000"/>
<line x1="1077.0" y1="1494.4" x2="1212.3" y2="1494.4" stroke="#3c3c3c" stroke-width="1.8" />
<line x1="1077.0" y1="1523.2" x2="1144.3" y2="1523.2" stroke="#3c3c3c" stroke-width="1.8" />
<text x="1140.4" y="1500.2" font-size="32" font-weight="normal" text-anchor="middle" fill="#000" letter-spacing="0">*</text>
<text x="1110.2" y="1526.5" font-size="32" font-weight="normal" text-anchor="middle" fill="#000" letter-spacing="0">*</text>
<text transform="translate(964.4 1634.6) rotate(-90)" font-size="24.3" font-weight="bold" text-anchor="middle" textLength="305.4" lengthAdjust="spacingAndGlyphs">Neutrophils count (#/organ)</text>
<path d="M143.3 316.8C144.0 315.3 146.4 311.9 147.5 308.2C148.6 304.4 149.1 299.8 149.8 294.2C150.5 288.6 151.2 282.0 151.7 274.6C152.2 267.2 152.4 259.6 152.8 249.9C153.3 240.1 153.7 231.6 154.4 216.3C155.1 201.0 156.2 177.6 157.0 158.2C157.8 138.8 158.6 113.4 159.1 99.9C159.6 86.4 159.7 82.1 160.1 77.3C160.4 72.5 160.7 71.0 161.0 71.0C161.3 71.0 161.6 72.5 161.9 77.3C162.3 82.1 162.5 86.4 163.0 99.9C163.5 113.4 164.2 138.8 164.9 158.2C165.7 177.6 166.8 201.0 167.5 216.3C168.2 231.6 168.7 240.1 169.4 249.9C170.1 259.6 170.7 266.8 171.5 274.6C172.3 282.3 173.2 290.7 174.0 296.5C174.9 302.3 175.7 306.2 176.8 309.6C177.9 312.9 179.9 315.6 180.6 316.8Z" fill="#000" stroke="none" stroke-width="0" stroke-linejoin="round" fill-opacity="0.41"/>
<path d="M159.6 316.8C160.2 314.6 162.0 312.3 163.1 303.5C164.2 294.7 165.2 276.7 166.1 263.8C167.0 251.0 167.6 235.8 168.5 226.5C169.3 217.3 170.3 212.3 171.3 208.4C172.2 204.4 173.1 202.4 174.0 202.8C175.0 203.1 176.2 209.4 177.1 210.2C178.0 211.1 178.6 211.0 179.4 207.9C180.2 204.8 181.0 197.0 181.7 191.6C182.5 186.1 183.4 178.7 184.1 175.2C184.8 171.8 185.3 171.4 185.9 171.0C186.6 170.7 187.4 174.5 188.0 172.9C188.7 171.3 189.2 166.1 189.9 161.3C190.6 156.4 191.5 148.0 192.2 143.8C193.0 139.6 193.9 136.3 194.6 136.1C195.3 135.9 195.8 138.4 196.4 142.6C197.1 146.8 197.6 155.8 198.3 161.3C199.0 166.7 199.7 171.6 200.6 175.2C201.6 178.9 202.8 181.1 203.9 183.4C205.0 185.7 206.4 186.7 207.4 189.2C208.4 191.8 209.0 193.9 210.0 198.6C210.9 203.2 212.1 211.8 213.2 217.2C214.4 222.7 215.6 225.0 216.7 231.2C217.9 237.4 219.1 247.5 220.2 254.5C221.4 261.5 222.4 268.9 223.7 273.2C225.1 277.5 227.0 277.1 228.4 280.2C229.7 283.3 230.5 287.6 231.9 291.8C233.2 296.1 235.0 302.3 236.5 305.8C238.1 309.3 239.3 311.0 241.2 312.8C243.1 314.6 245.9 316.3 248.2 316.8C250.5 316.8 252.5 315.8 255.2 315.8C257.9 315.8 263.0 316.6 264.5 316.8Z" fill="#1e90ff" stroke="#1e88f5" stroke-width="1.9" stroke-linejoin="round" fill-opacity="0.45"/>
<path d="M150.3 316.8C152.2 316.2 158.4 315.9 161.9 313.3C165.4 310.7 168.7 305.9 171.3 301.2C173.8 296.4 175.1 290.7 177.1 284.8C179.0 279.0 181.2 272.4 182.9 266.2C184.7 260.0 186.0 252.2 187.6 247.5C189.1 242.9 190.7 242.5 192.2 238.2C193.8 233.9 195.3 227.7 196.9 221.9C198.5 216.0 200.1 209.8 201.6 203.2C203.0 196.6 204.6 190.0 205.8 182.2C206.9 174.5 207.7 164.7 208.6 156.6C209.4 148.4 210.2 139.5 210.9 133.3C211.6 127.1 212.0 122.2 212.5 119.3C213.0 116.4 213.3 114.5 213.9 115.8C214.5 117.0 215.4 124.4 216.0 126.7C216.7 129.1 217.2 130.2 217.9 129.8C218.6 129.3 219.4 123.7 220.2 123.9C221.0 124.2 221.9 128.7 222.6 131.4C223.3 134.1 223.7 140.3 224.4 140.3C225.1 140.2 226.1 132.1 226.7 130.9C227.4 129.8 227.8 130.9 228.4 133.3C228.9 135.6 229.4 139.5 230.0 144.9C230.6 150.4 231.2 159.6 231.9 165.9C232.6 172.2 233.4 179.4 234.2 182.7C235.0 186.0 235.8 182.3 236.5 185.7C237.3 189.2 238.0 197.4 238.9 203.2C239.7 209.1 240.7 216.0 241.7 220.7C242.6 225.4 243.6 225.6 244.7 231.2C245.8 236.8 247.0 246.7 248.2 254.5C249.4 262.3 250.5 271.2 251.7 277.8C252.9 284.4 253.8 289.5 255.2 294.2C256.6 298.8 257.9 302.5 259.9 305.8C261.8 309.1 264.1 312.2 266.9 314.0C269.6 315.8 274.6 316.3 276.2 316.8Z" fill="#d70000" stroke="#d81e1e" stroke-width="1.9" stroke-linejoin="round" fill-opacity="0.38"/>
<path d="M143.3 316.8C144.0 315.3 146.4 311.9 147.5 308.2C148.6 304.4 149.1 299.8 149.8 294.2C150.5 288.6 151.2 282.0 151.7 274.6C152.2 267.2 152.4 259.6 152.8 249.9C153.3 240.1 153.7 231.6 154.4 216.3C155.1 201.0 156.2 177.6 157.0 158.2C157.8 138.8 158.6 113.4 159.1 99.9C159.6 86.4 159.7 82.1 160.1 77.3C160.4 72.5 160.7 71.0 161.0 71.0C161.3 71.0 161.6 72.5 161.9 77.3C162.3 82.1 162.5 86.4 163.0 99.9C163.5 113.4 164.2 138.8 164.9 158.2C165.7 177.6 166.8 201.0 167.5 216.3C168.2 231.6 168.7 240.1 169.4 249.9C170.1 259.6 170.7 266.8 171.5 274.6C172.3 282.3 173.2 290.7 174.0 296.5C174.9 302.3 175.7 306.2 176.8 309.6C177.9 312.9 179.9 315.6 180.6 316.8Z" fill="none" stroke="#1c1c1c" stroke-width="1.6" stroke-linejoin="round" fill-opacity="1"/>
<rect x="125.8" y="58.2" width="260.0" height="258.6" fill="none" stroke="#333" stroke-width="1.7"/>
<line x1="117.6" y1="316.8" x2="125.8" y2="316.8" stroke="#222" stroke-width="2.1" />
<text x="0.0" y="0.0" font-size="12" font-weight="normal" text-anchor="end" fill="#6a6a6a" transform="translate(111.6 321.0) scale(0.84 1)">0</text>
<line x1="121.6" y1="304.4" x2="125.8" y2="304.4" stroke="#333" stroke-width="1.4" />
<line x1="121.6" y1="292.1" x2="125.8" y2="292.1" stroke="#333" stroke-width="1.4" />
<line x1="121.6" y1="279.7" x2="125.8" y2="279.7" stroke="#333" stroke-width="1.4" />
<line x1="117.6" y1="267.3" x2="125.8" y2="267.3" stroke="#222" stroke-width="2.1" />
<text x="0.0" y="0.0" font-size="12" font-weight="normal" text-anchor="end" fill="#6a6a6a" transform="translate(111.6 271.5) scale(0.84 1)">20</text>
<line x1="121.6" y1="255.0" x2="125.8" y2="255.0" stroke="#333" stroke-width="1.4" />
<line x1="121.6" y1="242.6" x2="125.8" y2="242.6" stroke="#333" stroke-width="1.4" />
<line x1="121.6" y1="230.3" x2="125.8" y2="230.3" stroke="#333" stroke-width="1.4" />
<line x1="117.6" y1="217.9" x2="125.8" y2="217.9" stroke="#222" stroke-width="2.1" />
<text x="0.0" y="0.0" font-size="12" font-weight="normal" text-anchor="end" fill="#6a6a6a" transform="translate(111.6 222.1) scale(0.84 1)">40</text>
<line x1="121.6" y1="205.6" x2="125.8" y2="205.6" stroke="#333" stroke-width="1.4" />
<line x1="121.6" y1="193.2" x2="125.8" y2="193.2" stroke="#333" stroke-width="1.4" />
<line x1="121.6" y1="180.8" x2="125.8" y2="180.8" stroke="#333" stroke-width="1.4" />
<line x1="117.6" y1="168.5" x2="125.8" y2="168.5" stroke="#222" stroke-width="2.1" />
<text x="0.0" y="0.0" font-size="12" font-weight="normal" text-anchor="end" fill="#6a6a6a" transform="translate(111.6 172.7) scale(0.84 1)">60</text>
<line x1="121.6" y1="156.1" x2="125.8" y2="156.1" stroke="#333" stroke-width="1.4" />
<line x1="121.6" y1="143.8" x2="125.8" y2="143.8" stroke="#333" stroke-width="1.4" />
<line x1="121.6" y1="131.4" x2="125.8" y2="131.4" stroke="#333" stroke-width="1.4" />
<line x1="117.6" y1="119.0" x2="125.8" y2="119.0" stroke="#222" stroke-width="2.1" />
<text x="0.0" y="0.0" font-size="12" font-weight="normal" text-anchor="end" fill="#6a6a6a" transform="translate(111.6 123.2) scale(0.84 1)">80</text>
<line x1="121.6" y1="106.7" x2="125.8" y2="106.7" stroke="#333" stroke-width="1.4" />
<line x1="121.6" y1="94.3" x2="125.8" y2="94.3" stroke="#333" stroke-width="1.4" />
<line x1="121.6" y1="82.0" x2="125.8" y2="82.0" stroke="#333" stroke-width="1.4" />
<line x1="117.6" y1="69.6" x2="125.8" y2="69.6" stroke="#222" stroke-width="2.1" />
<text x="0.0" y="0.0" font-size="12" font-weight="normal" text-anchor="end" fill="#6a6a6a" transform="translate(111.6 73.8) scale(0.84 1)">100</text>
<line x1="130.9" y1="316.8" x2="130.9" y2="325.1" stroke="#222" stroke-width="1.7" />
<line x1="177.8" y1="316.8" x2="177.8" y2="325.1" stroke="#222" stroke-width="1.7" />
<line x1="240.0" y1="316.8" x2="240.0" y2="325.1" stroke="#222" stroke-width="1.7" />
<line x1="300.7" y1="316.8" x2="300.7" y2="325.1" stroke="#222" stroke-width="1.7" />
<line x1="360.1" y1="316.8" x2="360.1" y2="325.1" stroke="#222" stroke-width="1.7" />
<line x1="152.6" y1="316.8" x2="152.6" y2="325.1" stroke="#222" stroke-width="1.8" />
<line x1="154.2" y1="316.8" x2="154.2" y2="325.1" stroke="#222" stroke-width="1.8" />
<line x1="156.1" y1="316.8" x2="156.1" y2="325.1" stroke="#222" stroke-width="1.8" />
<line x1="133.9" y1="316.8" x2="133.9" y2="320.8" stroke="#222" stroke-width="1.1" />
<line x1="136.7" y1="316.8" x2="136.7" y2="320.8" stroke="#222" stroke-width="1.1" />
<line x1="139.3" y1="316.8" x2="139.3" y2="320.8" stroke="#222" stroke-width="1.1" />
<line x1="141.6" y1="316.8" x2="141.6" y2="320.8" stroke="#222" stroke-width="1.1" />
<line x1="143.7" y1="316.8" x2="143.7" y2="320.8" stroke="#222" stroke-width="1.1" />
<line x1="145.6" y1="316.8" x2="145.6" y2="320.8" stroke="#222" stroke-width="1.1" />
<line x1="147.5" y1="316.8" x2="147.5" y2="320.8" stroke="#222" stroke-width="1.1" />
<line x1="149.1" y1="316.8" x2="149.1" y2="320.8" stroke="#222" stroke-width="1.1" />
<line x1="150.7" y1="316.8" x2="150.7" y2="320.8" stroke="#222" stroke-width="1.1" />
<line x1="159.6" y1="316.8" x2="159.6" y2="320.8" stroke="#222" stroke-width="1.1" />
<line x1="161.5" y1="316.8" x2="161.5" y2="320.8" stroke="#222" stroke-width="1.1" />
<line x1="163.3" y1="316.8" x2="163.3" y2="320.8" stroke="#222" stroke-width="1.1" />
<line x1="165.2" y1="316.8" x2="165.2" y2="320.8" stroke="#222" stroke-width="1.1" />
<line x1="167.1" y1="316.8" x2="167.1" y2="320.8" stroke="#222" stroke-width="1.1" />
<line x1="168.9" y1="316.8" x2="168.9" y2="320.8" stroke="#222" stroke-width="1.1" />
<line x1="171.3" y1="316.8" x2="171.3" y2="320.8" stroke="#222" stroke-width="1.1" />
<line x1="173.6" y1="316.8" x2="173.6" y2="320.8" stroke="#222" stroke-width="1.1" />
<line x1="175.9" y1="316.8" x2="175.9" y2="320.8" stroke="#222" stroke-width="1.1" />
<line x1="196.5" y1="316.8" x2="196.5" y2="320.8" stroke="#222" stroke-width="1.1" />
<line x1="207.5" y1="316.8" x2="207.5" y2="320.8" stroke="#222" stroke-width="1.1" />
<line x1="215.3" y1="316.8" x2="215.3" y2="320.8" stroke="#222" stroke-width="1.1" />
<line x1="221.3" y1="316.8" x2="221.3" y2="320.8" stroke="#222" stroke-width="1.1" />
<line x1="226.2" y1="316.8" x2="226.2" y2="320.8" stroke="#222" stroke-width="1.1" />
<line x1="230.4" y1="316.8" x2="230.4" y2="320.8" stroke="#222" stroke-width="1.1" />
<line x1="234.0" y1="316.8" x2="234.0" y2="320.8" stroke="#222" stroke-width="1.1" />
<line x1="237.2" y1="316.8" x2="237.2" y2="320.8" stroke="#222" stroke-width="1.1" />
<line x1="258.3" y1="316.8" x2="258.3" y2="320.8" stroke="#222" stroke-width="1.1" />
<line x1="269.0" y1="316.8" x2="269.0" y2="320.8" stroke="#222" stroke-width="1.1" />
<line x1="276.5" y1="316.8" x2="276.5" y2="320.8" stroke="#222" stroke-width="1.1" />
<line x1="282.4" y1="316.8" x2="282.4" y2="320.8" stroke="#222" stroke-width="1.1" />
<line x1="287.2" y1="316.8" x2="287.2" y2="320.8" stroke="#222" stroke-width="1.1" />
<line x1="291.3" y1="316.8" x2="291.3" y2="320.8" stroke="#222" stroke-width="1.1" />
<line x1="294.8" y1="316.8" x2="294.8" y2="320.8" stroke="#222" stroke-width="1.1" />
<line x1="297.9" y1="316.8" x2="297.9" y2="320.8" stroke="#222" stroke-width="1.1" />
<line x1="318.6" y1="316.8" x2="318.6" y2="320.8" stroke="#222" stroke-width="1.1" />
<line x1="329.0" y1="316.8" x2="329.0" y2="320.8" stroke="#222" stroke-width="1.1" />
<line x1="336.5" y1="316.8" x2="336.5" y2="320.8" stroke="#222" stroke-width="1.1" />
<line x1="342.2" y1="316.8" x2="342.2" y2="320.8" stroke="#222" stroke-width="1.1" />
<line x1="346.9" y1="316.8" x2="346.9" y2="320.8" stroke="#222" stroke-width="1.1" />
<line x1="350.9" y1="316.8" x2="350.9" y2="320.8" stroke="#222" stroke-width="1.1" />
<line x1="354.4" y1="316.8" x2="354.4" y2="320.8" stroke="#222" stroke-width="1.1" />
<line x1="357.4" y1="316.8" x2="357.4" y2="320.8" stroke="#222" stroke-width="1.1" />
<line x1="378.0" y1="316.8" x2="378.0" y2="320.8" stroke="#222" stroke-width="1.1" />
<text x="0.0" y="0.0" font-size="12" font-weight="normal" text-anchor="middle" fill="#6a6a6a" transform="translate(159.6 347.5) scale(0.84 1)">0</text>
<text transform="translate(248.4 347.5) scale(0.84 1)" font-size="12" text-anchor="middle" fill="#6a6a6a">10<tspan font-size="9" dx="0.8" dy="-5">3</tspan></text>
<text transform="translate(309.1 347.5) scale(0.84 1)" font-size="12" text-anchor="middle" fill="#6a6a6a">10<tspan font-size="9" dx="0.8" dy="-5">4</tspan></text>
<text transform="translate(368.5 347.5) scale(0.84 1)" font-size="12" text-anchor="middle" fill="#6a6a6a">10<tspan font-size="9" dx="0.8" dy="-5">5</tspan></text>
<rect x="289.5" y="66.8" width="21.2" height="21.0" fill="#fff" stroke="#222" stroke-width="1.1"/>
<rect x="293.4" y="71.0" width="12.6" height="12.4" fill="#8c8c8c" stroke="#333" stroke-width="1.5"/>
<rect x="289.5" y="87.8" width="21.2" height="21.5" fill="#fff" stroke="#222" stroke-width="1.1"/>
<rect x="293.4" y="92.0" width="12.6" height="12.8" fill="#ee8f8f" stroke="#dd3c3c" stroke-width="1.5"/>
<rect x="289.5" y="109.3" width="21.2" height="20.1" fill="#fff" stroke="#222" stroke-width="1.1"/>
<rect x="293.4" y="113.5" width="12.6" height="11.4" fill="#8fc6ff" stroke="#2f8ff0" stroke-width="1.5"/>
<text x="0.0" y="0.0" font-size="15" font-weight="bold" text-anchor="start" fill="#111" transform="translate(318.2 81.5) scale(0.93 1)">Iso</text>
<text x="318.2" y="104.6" font-size="15" font-weight="bold" fill="#c00000" textLength="51.5" lengthAdjust="spacingAndGlyphs">Papain</text>
<text x="0.0" y="0.0" font-size="15" font-weight="bold" text-anchor="start" fill="#2e75b6" transform="translate(318.2 125.3) scale(0.93 1)">PBS</text>
<text x="0.0" y="0.0" font-size="27.5" font-weight="bold" text-anchor="middle" fill="#000" transform="translate(83.6 191.0) rotate(-90) scale(0.88 1)">Count</text>
<text x="131.8" y="375.3" font-size="20.5" font-weight="bold" textLength="64.5" lengthAdjust="spacingAndGlyphs">PPARγ</text>
<path d="M221 364.2H371V358.1L387.5 367.4L371 376.7V370.6H221Z" fill="#000"/>
<rect x="619.9" y="208.4" width="32.6" height="137.8" fill="#0096ff" stroke="#000" stroke-width="1.9"/>
<rect x="671.2" y="147.1" width="32.2" height="199.1" fill="#941100" stroke="#000" stroke-width="1.9"/>
<rect x="754.7" y="269.6" width="31.7" height="76.6" fill="#0096ff" stroke="#000" stroke-width="1.9"/>
<rect x="804.2" y="228.7" width="33.1" height="117.5" fill="#941100" stroke="#000" stroke-width="1.9"/>
<rect x="889.0" y="286.0" width="32.3" height="60.2" fill="#0096ff" stroke="#000" stroke-width="1.9"/>
<rect x="939.4" y="274.4" width="32.6" height="71.8" fill="#941100" stroke="#000" stroke-width="1.9"/>
<rect x="1023.4" y="287.1" width="31.9" height="59.1" fill="#0096ff" stroke="#000" stroke-width="1.9"/>
<rect x="1074.0" y="325.9" width="32.0" height="20.3" fill="#941100" stroke="#000" stroke-width="1.9"/>
<line x1="602.9" y1="17.2" x2="602.9" y2="346.2" stroke="#000" stroke-width="1.7" />
<line x1="589.1" y1="346.2" x2="1124.8" y2="346.2" stroke="#000" stroke-width="1.7" />
<line x1="589.1" y1="291.5" x2="602.9" y2="291.5" stroke="#000" stroke-width="1.7" />
<line x1="589.1" y1="236.8" x2="602.9" y2="236.8" stroke="#000" stroke-width="1.7" />
<line x1="589.1" y1="182.1" x2="602.9" y2="182.1" stroke="#000" stroke-width="1.7" />
<line x1="589.1" y1="127.4" x2="602.9" y2="127.4" stroke="#000" stroke-width="1.7" />
<line x1="589.1" y1="72.7" x2="602.9" y2="72.7" stroke="#000" stroke-width="1.7" />
<line x1="589.1" y1="18.0" x2="602.9" y2="18.0" stroke="#000" stroke-width="1.7" />
<text x="579.9" y="354.8" font-size="22.3" font-weight="bold" text-anchor="end" fill="#000">0</text>
<text x="579.9" y="300.1" font-size="22.3" font-weight="bold" text-anchor="end" fill="#000">250</text>
<text x="579.9" y="245.4" font-size="22.3" font-weight="bold" text-anchor="end" fill="#000">500</text>
<text x="579.9" y="190.7" font-size="22.3" font-weight="bold" text-anchor="end" fill="#000">750</text>
<text x="579.9" y="136.0" font-size="22.3" font-weight="bold" text-anchor="end" fill="#000">1000</text>
<text x="579.9" y="81.3" font-size="22.3" font-weight="bold" text-anchor="end" fill="#000">1250</text>
<text x="579.9" y="26.6" font-size="22.3" font-weight="bold" text-anchor="end" fill="#000">1500</text>
<line x1="661.4" y1="346.2" x2="661.4" y2="354.7" stroke="#000" stroke-width="1.7" />
<text x="666.3" y="381.8" font-size="21.5" font-weight="bold" text-anchor="middle" fill="#000" letter-spacing="0.3">ILC2</text>
<line x1="795.3" y1="346.2" x2="795.3" y2="354.7" stroke="#000" stroke-width="1.7" />
<text x="804.1" y="381.8" font-size="21.5" font-weight="bold" text-anchor="middle" fill="#000" letter-spacing="0.3">ILC3</text>
<line x1="930.1" y1="346.2" x2="930.1" y2="354.7" stroke="#000" stroke-width="1.7" />
<text x="933.4" y="381.8" font-size="21.5" font-weight="bold" text-anchor="middle" fill="#000" letter-spacing="0.3">TL</text>
<line x1="1064.2" y1="346.2" x2="1064.2" y2="354.7" stroke="#000" stroke-width="1.7" />
<text x="1065.8" y="381.8" font-size="21.5" font-weight="bold" text-anchor="middle" fill="#000" letter-spacing="0.3">BL</text>
<line x1="636.5" y1="172.3" x2="636.5" y2="244.5" stroke="#000" stroke-width="1.5" />
<line x1="627.5" y1="172.3" x2="645.5" y2="172.3" stroke="#000" stroke-width="1.5" />
<line x1="627.5" y1="244.5" x2="645.5" y2="244.5" stroke="#000" stroke-width="1.5" />
<line x1="687.0" y1="100.0" x2="687.0" y2="194.1" stroke="#000" stroke-width="1.5" />
<line x1="678.0" y1="100.0" x2="696.0" y2="100.0" stroke="#000" stroke-width="1.5" />
<line x1="678.0" y1="194.1" x2="696.0" y2="194.1" stroke="#000" stroke-width="1.5" />
<line x1="770.3" y1="250.4" x2="770.3" y2="288.9" stroke="#000" stroke-width="1.5" />
<line x1="762.3" y1="250.4" x2="778.3" y2="250.4" stroke="#000" stroke-width="1.5" />
<line x1="762.3" y1="288.9" x2="778.3" y2="288.9" stroke="#000" stroke-width="1.5" />
<line x1="821.0" y1="210.8" x2="821.0" y2="246.6" stroke="#000" stroke-width="1.5" />
<line x1="813.0" y1="210.8" x2="829.0" y2="210.8" stroke="#000" stroke-width="1.5" />
<line x1="813.0" y1="246.6" x2="829.0" y2="246.6" stroke="#000" stroke-width="1.5" />
<line x1="905.0" y1="266.8" x2="905.0" y2="305.3" stroke="#000" stroke-width="1.5" />
<line x1="897.0" y1="266.8" x2="913.0" y2="266.8" stroke="#000" stroke-width="1.5" />
<line x1="897.0" y1="305.3" x2="913.0" y2="305.3" stroke="#000" stroke-width="1.5" />
<line x1="955.8" y1="263.9" x2="955.8" y2="284.9" stroke="#000" stroke-width="1.5" />
<line x1="947.8" y1="263.9" x2="963.8" y2="263.9" stroke="#000" stroke-width="1.5" />
<line x1="947.8" y1="284.9" x2="963.8" y2="284.9" stroke="#000" stroke-width="1.5" />
<line x1="1039.5" y1="275.7" x2="1039.5" y2="298.5" stroke="#000" stroke-width="1.5" />
<line x1="1031.5" y1="275.7" x2="1047.5" y2="275.7" stroke="#000" stroke-width="1.5" />
<line x1="1031.5" y1="298.5" x2="1047.5" y2="298.5" stroke="#000" stroke-width="1.5" />
<line x1="1089.8" y1="318.8" x2="1089.8" y2="332.9" stroke="#000" stroke-width="1.5" />
<line x1="1081.8" y1="318.8" x2="1097.8" y2="318.8" stroke="#000" stroke-width="1.5" />
<line x1="1081.8" y1="332.9" x2="1097.8" y2="332.9" stroke="#000" stroke-width="1.5" />
<circle cx="626.0" cy="159.5" r="6.5" fill="none" stroke="#000" stroke-width="3.1"/>
<circle cx="636.7" cy="164.2" r="6.5" fill="none" stroke="#000" stroke-width="3.1"/>
<circle cx="626.0" cy="180.9" r="6.5" fill="none" stroke="#000" stroke-width="3.1"/>
<circle cx="636.7" cy="188.4" r="6.5" fill="none" stroke="#000" stroke-width="3.1"/>
<circle cx="647.0" cy="199.6" r="6.5" fill="none" stroke="#000" stroke-width="3.1"/>
<circle cx="636.7" cy="203.8" r="6.5" fill="none" stroke="#000" stroke-width="3.1"/>
<circle cx="636.7" cy="228.5" r="6.5" fill="none" stroke="#000" stroke-width="3.1"/>
<circle cx="626.0" cy="254.2" r="6.5" fill="none" stroke="#000" stroke-width="3.1"/>
<circle cx="636.7" cy="250.4" r="6.5" fill="none" stroke="#000" stroke-width="3.1"/>
<circle cx="647.0" cy="250.4" r="6.5" fill="none" stroke="#000" stroke-width="3.1"/>
<circle cx="770.5" cy="232.2" r="6.5" fill="none" stroke="#000" stroke-width="3.1"/>
<circle cx="780.8" cy="248.1" r="6.5" fill="none" stroke="#000" stroke-width="3.1"/>
<circle cx="760.7" cy="260.2" r="6.5" fill="none" stroke="#000" stroke-width="3.1"/>
<circle cx="780.8" cy="264.9" r="6.5" fill="none" stroke="#000" stroke-width="3.1"/>
<circle cx="755.1" cy="275.1" r="6.5" fill="none" stroke="#000" stroke-width="3.1"/>
<circle cx="765.4" cy="279.8" r="6.5" fill="none" stroke="#000" stroke-width="3.1"/>
<circle cx="780.8" cy="283.5" r="6.5" fill="none" stroke="#000" stroke-width="3.1"/>
<circle cx="770.5" cy="299.9" r="6.5" fill="none" stroke="#000" stroke-width="3.1"/>
<circle cx="770.5" cy="270.5" r="6.5" fill="none" stroke="#000" stroke-width="3.1"/>
<circle cx="765.4" cy="288.2" r="6.5" fill="none" stroke="#000" stroke-width="3.1"/>
<circle cx="905.3" cy="257.4" r="6.5" fill="none" stroke="#000" stroke-width="3.1"/>
<circle cx="895.1" cy="272.8" r="6.5" fill="none" stroke="#000" stroke-width="3.1"/>
<circle cx="916.0" cy="279.8" r="6.5" fill="none" stroke="#000" stroke-width="3.1"/>
<circle cx="905.3" cy="282.1" r="6.5" fill="none" stroke="#000" stroke-width="3.1"/>
<circle cx="895.1" cy="286.8" r="6.5" fill="none" stroke="#000" stroke-width="3.1"/>
<circle cx="910.0" cy="290.1" r="6.5" fill="none" stroke="#000" stroke-width="3.1"/>
<circle cx="905.3" cy="307.8" r="6.5" fill="none" stroke="#000" stroke-width="3.1"/>
<circle cx="905.3" cy="320.9" r="6.5" fill="none" stroke="#000" stroke-width="3.1"/>
<circle cx="899.7" cy="298.5" r="6.5" fill="none" stroke="#000" stroke-width="3.1"/>
<circle cx="911.4" cy="285.4" r="6.5" fill="none" stroke="#000" stroke-width="3.1"/>
<circle cx="1035.0" cy="263.5" r="6.5" fill="none" stroke="#000" stroke-width="3.1"/>
<circle cx="1042.0" cy="269.1" r="6.5" fill="none" stroke="#000" stroke-width="3.1"/>
<circle cx="1030.3" cy="279.8" r="6.5" fill="none" stroke="#000" stroke-width="3.1"/>
<circle cx="1045.2" cy="279.8" r="6.5" fill="none" stroke="#000" stroke-width="3.1"/>
<circle cx="1025.6" cy="287.7" r="6.5" fill="none" stroke="#000" stroke-width="3.1"/>
<circle cx="1037.3" cy="287.7" r="6.5" fill="none" stroke="#000" stroke-width="3.1"/>
<circle cx="1049.9" cy="285.4" r="6.5" fill="none" stroke="#000" stroke-width="3.1"/>
<circle cx="1039.6" cy="320.9" r="6.5" fill="none" stroke="#000" stroke-width="3.1"/>
<circle cx="1037.3" cy="275.1" r="6.5" fill="none" stroke="#000" stroke-width="3.1"/>
<circle cx="1032.6" cy="285.4" r="6.5" fill="none" stroke="#000" stroke-width="3.1"/>
<path d="M676.8 74.8L684.1 82.1L676.8 89.4L669.5 82.1Z" fill="none" stroke="#000" stroke-width="3.0" stroke-linejoin="miter"/>
<path d="M686.6 82.7L693.9 90.0L686.6 97.3L679.3 90.0Z" fill="none" stroke="#000" stroke-width="3.0" stroke-linejoin="miter"/>
<path d="M686.6 124.2L693.9 131.5L686.6 138.8L679.3 131.5Z" fill="none" stroke="#000" stroke-width="3.0" stroke-linejoin="miter"/>
<path d="M696.4 166.2L703.7 173.5L696.4 180.8L689.1 173.5Z" fill="none" stroke="#000" stroke-width="3.0" stroke-linejoin="miter"/>
<path d="M686.6 171.3L693.9 178.6L686.6 185.9L679.3 178.6Z" fill="none" stroke="#000" stroke-width="3.0" stroke-linejoin="miter"/>
<path d="M676.8 182.5L684.1 189.8L676.8 197.1L669.5 189.8Z" fill="none" stroke="#000" stroke-width="3.0" stroke-linejoin="miter"/>
<path d="M696.4 177.8L703.7 185.1L696.4 192.4L689.1 185.1Z" fill="none" stroke="#000" stroke-width="3.0" stroke-linejoin="miter"/>
<path d="M821.4 196.5L828.7 203.8L821.4 211.1L814.1 203.8Z" fill="none" stroke="#000" stroke-width="3.0" stroke-linejoin="miter"/>
<path d="M821.4 211.9L828.7 219.2L821.4 226.5L814.1 219.2Z" fill="none" stroke="#000" stroke-width="3.0" stroke-linejoin="miter"/>
<path d="M821.4 226.8L828.7 234.1L821.4 241.4L814.1 234.1Z" fill="none" stroke="#000" stroke-width="3.0" stroke-linejoin="miter"/>
<path d="M811.1 237.5L818.4 244.8L811.1 252.1L803.8 244.8Z" fill="none" stroke="#000" stroke-width="3.0" stroke-linejoin="miter"/>
<path d="M831.2 232.9L838.5 240.2L831.2 247.5L823.9 240.2Z" fill="none" stroke="#000" stroke-width="3.0" stroke-linejoin="miter"/>
<path d="M821.4 231.5L828.7 238.8L821.4 246.1L814.1 238.8Z" fill="none" stroke="#000" stroke-width="3.0" stroke-linejoin="miter"/>
<path d="M945.4 254.8L952.7 262.1L945.4 269.4L938.1 262.1Z" fill="none" stroke="#000" stroke-width="3.0" stroke-linejoin="miter"/>
<path d="M958.0 254.8L965.3 262.1L958.0 269.4L950.7 262.1Z" fill="none" stroke="#000" stroke-width="3.0" stroke-linejoin="miter"/>
<path d="M965.0 264.6L972.3 271.9L965.0 279.2L957.7 271.9Z" fill="none" stroke="#000" stroke-width="3.0" stroke-linejoin="miter"/>
<path d="M951.0 265.5L958.3 272.8L951.0 280.1L943.7 272.8Z" fill="none" stroke="#000" stroke-width="3.0" stroke-linejoin="miter"/>
<path d="M945.4 270.2L952.7 277.5L945.4 284.8L938.1 277.5Z" fill="none" stroke="#000" stroke-width="3.0" stroke-linejoin="miter"/>
<path d="M958.0 272.5L965.3 279.8L958.0 287.1L950.7 279.8Z" fill="none" stroke="#000" stroke-width="3.0" stroke-linejoin="miter"/>
<path d="M952.4 284.2L959.7 291.5L952.4 298.8L945.1 291.5Z" fill="none" stroke="#000" stroke-width="3.0" stroke-linejoin="miter"/>
<path d="M1089.5 305.2L1096.8 312.5L1089.5 319.8L1082.2 312.5Z" fill="none" stroke="#000" stroke-width="3.0" stroke-linejoin="miter"/>
<path d="M1081.6 316.8L1088.9 324.1L1081.6 331.4L1074.3 324.1Z" fill="none" stroke="#000" stroke-width="3.0" stroke-linejoin="miter"/>
<path d="M1090.9 315.9L1098.2 323.2L1090.9 330.5L1083.6 323.2Z" fill="none" stroke="#000" stroke-width="3.0" stroke-linejoin="miter"/>
<path d="M1100.2 319.1L1107.5 326.4L1100.2 333.7L1092.9 326.4Z" fill="none" stroke="#000" stroke-width="3.0" stroke-linejoin="miter"/>
<path d="M1086.3 320.5L1093.6 327.8L1086.3 335.1L1079.0 327.8Z" fill="none" stroke="#000" stroke-width="3.0" stroke-linejoin="miter"/>
<path d="M1095.6 321.5L1102.9 328.8L1095.6 336.1L1088.3 328.8Z" fill="none" stroke="#000" stroke-width="3.0" stroke-linejoin="miter"/>
<line x1="622.7" y1="56.0" x2="690.3" y2="56.0" stroke="#000" stroke-width="1.7" />
<line x1="755.1" y1="56.0" x2="822.8" y2="56.0" stroke="#000" stroke-width="1.7" />
<text x="661.0" y="62.3" font-size="37" font-weight="bold" text-anchor="middle" fill="#000" letter-spacing="0.5">**</text>
<text x="788.5" y="62.3" font-size="37" font-weight="bold" text-anchor="middle" fill="#000">*</text>
<rect x="1005.7" y="30.3" width="17.4" height="18.7" fill="#4f9df9" stroke="none" stroke-width="0"/>
<rect x="1005.7" y="68.1" width="17.4" height="18.2" fill="#941100" stroke="none" stroke-width="0"/>
<text x="1030.8" y="46.6" font-size="16.5" font-weight="bold" text-anchor="start" fill="#000" letter-spacing="1">PBS</text>
<text x="1030.8" y="84.5" font-size="16.5" font-weight="bold" text-anchor="start" fill="#000" letter-spacing="1">Papain</text>
<text transform="translate(511.5 173.5) rotate(-90)" font-size="24" font-weight="bold" text-anchor="middle" textLength="305" lengthAdjust="spacing">PPARγ expression (MFI)</text>
<line x1="1039.0" y1="488.4" x2="1039.0" y2="768.9" stroke="#222" stroke-width="1.8" />
<line x1="1029.0" y1="768.9" x2="1425.6" y2="768.9" stroke="#222" stroke-width="1.8" />
<text x="0.0" y="0.0" font-size="21.5" font-weight="bold" text-anchor="end" fill="#000" transform="translate(1021.8 776.5) scale(0.86 1)">0</text>
<line x1="1029.0" y1="722.3" x2="1039.0" y2="722.3" stroke="#222" stroke-width="1.8" />
<text x="0.0" y="0.0" font-size="21.5" font-weight="bold" text-anchor="end" fill="#000" transform="translate(1021.8 729.9) scale(0.86 1)">20</text>
<line x1="1029.0" y1="675.7" x2="1039.0" y2="675.7" stroke="#222" stroke-width="1.8" />
<text x="0.0" y="0.0" font-size="21.5" font-weight="bold" text-anchor="end" fill="#000" transform="translate(1021.8 683.3) scale(0.86 1)">40</text>
<line x1="1029.0" y1="629.1" x2="1039.0" y2="629.1" stroke="#222" stroke-width="1.8" />
<text x="0.0" y="0.0" font-size="21.5" font-weight="bold" text-anchor="end" fill="#000" transform="translate(1021.8 636.7) scale(0.86 1)">60</text>
<line x1="1029.0" y1="582.5" x2="1039.0" y2="582.5" stroke="#222" stroke-width="1.8" />
<text x="0.0" y="0.0" font-size="21.5" font-weight="bold" text-anchor="end" fill="#000" transform="translate(1021.8 590.1) scale(0.86 1)">80</text>
<line x1="1029.0" y1="535.9" x2="1039.0" y2="535.9" stroke="#222" stroke-width="1.8" />
<text x="0.0" y="0.0" font-size="21.5" font-weight="bold" text-anchor="end" fill="#000" transform="translate(1021.8 543.5) scale(0.86 1)">100</text>
<line x1="1029.0" y1="489.3" x2="1039.0" y2="489.3" stroke="#222" stroke-width="1.8" />
<text x="0.0" y="0.0" font-size="21.5" font-weight="bold" text-anchor="end" fill="#000" transform="translate(1021.8 496.9) scale(0.86 1)">120</text>
<line x1="1039.0" y1="768.9" x2="1039.0" y2="780.3" stroke="#222" stroke-width="1.8" />
<text x="0.0" y="0.0" font-size="21.5" font-weight="bold" text-anchor="middle" fill="#000" transform="translate(1039.0 805.0) scale(0.86 1)">0</text>
<line x1="1051.9" y1="768.9" x2="1051.9" y2="774.6" stroke="#222" stroke-width="1.2" />
<line x1="1064.7" y1="768.9" x2="1064.7" y2="774.6" stroke="#222" stroke-width="1.2" />
<line x1="1077.6" y1="768.9" x2="1077.6" y2="774.6" stroke="#222" stroke-width="1.2" />
<line x1="1090.4" y1="768.9" x2="1090.4" y2="774.6" stroke="#222" stroke-width="1.2" />
<line x1="1103.3" y1="768.9" x2="1103.3" y2="774.6" stroke="#222" stroke-width="1.2" />
<line x1="1116.1" y1="768.9" x2="1116.1" y2="774.6" stroke="#222" stroke-width="1.2" />
<line x1="1129.0" y1="768.9" x2="1129.0" y2="774.6" stroke="#222" stroke-width="1.2" />
<line x1="1141.9" y1="768.9" x2="1141.9" y2="774.6" stroke="#222" stroke-width="1.2" />
<line x1="1154.7" y1="768.9" x2="1154.7" y2="774.6" stroke="#222" stroke-width="1.2" />
<line x1="1167.6" y1="768.9" x2="1167.6" y2="780.3" stroke="#222" stroke-width="1.8" />
<text x="0.0" y="0.0" font-size="21.5" font-weight="bold" text-anchor="middle" fill="#000" transform="translate(1167.6 805.0) scale(0.86 1)">500</text>
<line x1="1180.4" y1="768.9" x2="1180.4" y2="774.6" stroke="#222" stroke-width="1.2" />
<line x1="1193.3" y1="768.9" x2="1193.3" y2="774.6" stroke="#222" stroke-width="1.2" />
<line x1="1206.1" y1="768.9" x2="1206.1" y2="774.6" stroke="#222" stroke-width="1.2" />
<line x1="1219.0" y1="768.9" x2="1219.0" y2="774.6" stroke="#222" stroke-width="1.2" />
<line x1="1231.9" y1="768.9" x2="1231.9" y2="774.6" stroke="#222" stroke-width="1.2" />
<line x1="1244.7" y1="768.9" x2="1244.7" y2="774.6" stroke="#222" stroke-width="1.2" />
<line x1="1257.6" y1="768.9" x2="1257.6" y2="774.6" stroke="#222" stroke-width="1.2" />
<line x1="1270.4" y1="768.9" x2="1270.4" y2="774.6" stroke="#222" stroke-width="1.2" />
<line x1="1283.3" y1="768.9" x2="1283.3" y2="774.6" stroke="#222" stroke-width="1.2" />
<line x1="1296.1" y1="768.9" x2="1296.1" y2="780.3" stroke="#222" stroke-width="1.8" />
<text x="0.0" y="0.0" font-size="21.5" font-weight="bold" text-anchor="middle" fill="#000" transform="translate(1296.1 805.0) scale(0.86 1)">1000</text>
<line x1="1309.0" y1="768.9" x2="1309.0" y2="774.6" stroke="#222" stroke-width="1.2" />
<line x1="1321.9" y1="768.9" x2="1321.9" y2="774.6" stroke="#222" stroke-width="1.2" />
<line x1="1334.7" y1="768.9" x2="1334.7" y2="774.6" stroke="#222" stroke-width="1.2" />
<line x1="1347.6" y1="768.9" x2="1347.6" y2="774.6" stroke="#222" stroke-width="1.2" />
<line x1="1360.4" y1="768.9" x2="1360.4" y2="774.6" stroke="#222" stroke-width="1.2" />
<line x1="1373.3" y1="768.9" x2="1373.3" y2="774.6" stroke="#222" stroke-width="1.2" />
<line x1="1386.1" y1="768.9" x2="1386.1" y2="774.6" stroke="#222" stroke-width="1.2" />
<line x1="1399.0" y1="768.9" x2="1399.0" y2="774.6" stroke="#222" stroke-width="1.2" />
<line x1="1411.9" y1="768.9" x2="1411.9" y2="774.6" stroke="#222" stroke-width="1.2" />
<line x1="1424.7" y1="768.9" x2="1424.7" y2="780.3" stroke="#222" stroke-width="1.8" />
<text x="0.0" y="0.0" font-size="21.5" font-weight="bold" text-anchor="middle" fill="#000" transform="translate(1424.7 805.0) scale(0.86 1)">1500</text>
<text x="1136.3" y="842" font-size="21" font-weight="bold" fill="#111" textLength="179" lengthAdjust="spacingAndGlyphs">PPARγ level (MFI)</text>
<text transform="translate(965.6 625.3) rotate(-90) scale(0.863 1)" font-size="26.4" font-weight="bold" text-anchor="middle" fill="#111">Lung ST2<tspan font-size="17" dy="-9">+</tspan><tspan dy="9"> ILC2 cells (%)</tspan></text>
<text x="1067" y="533.5" font-size="16.3" fill="#333">Pearson <tspan font-style="italic">r</tspan> = 0.9140</text>
<text x="1067" y="553.6" font-size="16.3" fill="#333"><tspan font-style="italic">P</tspan> &lt; 0.0001</text>
<path d="M1292.8 546.5L1298.4 556.9L1287.2 556.9Z" fill="#8b1111"/>
<path d="M1340.7 553.6L1346.3 564.0L1335.1 564.0Z" fill="#8b1111"/>
<path d="M1350.7 538.3L1356.3 548.7L1345.1 548.7Z" fill="#8b1111"/>
<path d="M1244.6 620.2L1250.2 630.5L1239.0 630.5Z" fill="#8b1111"/>
<path d="M1228.2 631.4L1233.8 641.7L1222.6 641.7Z" fill="#8b1111"/>
<path d="M1237.1 649.3L1242.7 659.7L1231.5 659.7Z" fill="#8b1111"/>
<path d="M1223.7 667.2L1229.3 677.6L1218.1 677.6Z" fill="#8b1111"/>
<circle cx="1232.6" cy="585.8" r="5.2" fill="none" stroke="#000" stroke-width="2.6"/>
<circle cx="1202.4" cy="654.5" r="5.2" fill="none" stroke="#000" stroke-width="2.6"/>
<circle cx="1224.8" cy="668.4" r="5.2" fill="none" stroke="#000" stroke-width="2.6"/>
<circle cx="1148.6" cy="699.4" r="5.2" fill="none" stroke="#000" stroke-width="2.6"/>
<circle cx="1153.4" cy="715.8" r="5.2" fill="none" stroke="#000" stroke-width="2.6"/>
<circle cx="1422.1" cy="699.4" r="5.2" fill="none" stroke="#000" stroke-width="2.6"/>
<path d="M1422.1 734.2L1426.9 743.1L1417.3 743.1Z" fill="#8b1111"/>
<text x="0.0" y="0.0" font-size="22" font-weight="normal" text-anchor="start" fill="#111" transform="translate(1439.0 706.1) scale(0.93 1)">PBS</text>
<text x="0.0" y="0.0" font-size="22" font-weight="normal" text-anchor="start" fill="#111" transform="translate(1439.0 745.7) scale(0.93 1)">Papain</text>
</svg>
</body></html>
